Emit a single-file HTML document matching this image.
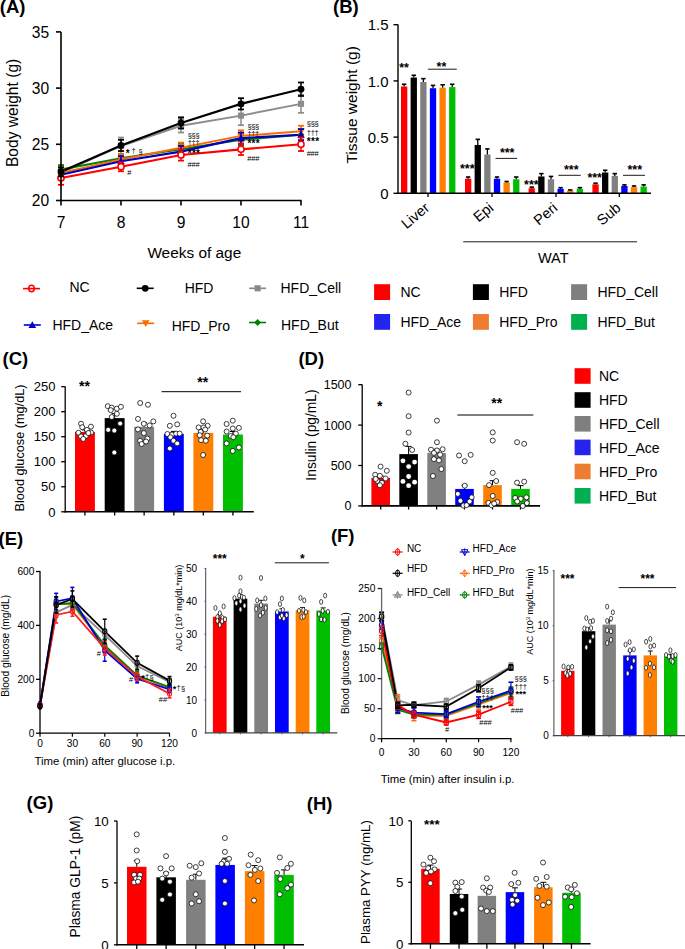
<!DOCTYPE html>
<html><head><meta charset="utf-8"><style>
html,body{margin:0;padding:0;background:#fff;overflow:hidden;width:685px;height:949px;}
svg{display:block;}
text{font-family:"Liberation Sans", sans-serif;}
</style></head><body>
<svg width="685" height="949" viewBox="0 0 685 949" font-family='"Liberation Sans", sans-serif'>
<rect width="685" height="949" fill="#fff"/>
<text x="-0.2" y="12.8" font-size="18.5" text-anchor="start" font-weight="bold" fill="#000">(A)</text>
<polyline points="61.00,172.96 121.00,145.99 181.00,125.75 241.00,115.64 301.00,103.84" fill="none" stroke="#8c8c8c" stroke-width="1.9"/>
<polyline points="61.00,169.59 121.00,158.35 181.00,149.36 241.00,139.80 301.00,134.75" fill="none" stroke="#008000" stroke-width="2.0"/>
<polyline points="61.00,172.96 121.00,159.47 181.00,147.67 241.00,135.87 301.00,131.37" fill="none" stroke="#ff6a00" stroke-width="2.0"/>
<polyline points="61.00,174.65 121.00,161.16 181.00,151.61 241.00,138.12 301.00,134.75" fill="none" stroke="#0000c0" stroke-width="2.1"/>
<polyline points="61.00,178.02 121.00,166.78 181.00,154.98 241.00,149.36 301.00,144.30" fill="none" stroke="#ff0000" stroke-width="2.1"/>
<polyline points="61.00,171.84 121.00,145.42 181.00,122.94 241.00,103.84 301.00,89.22" fill="none" stroke="#000" stroke-width="2.2"/>
<line x1="61.00" y1="168.47" x2="61.00" y2="177.46" stroke="#8c8c8c" stroke-width="1.5"/>
<line x1="58.00" y1="168.47" x2="64.00" y2="168.47" stroke="#8c8c8c" stroke-width="1.8"/>
<line x1="58.00" y1="177.46" x2="64.00" y2="177.46" stroke="#8c8c8c" stroke-width="1.8"/>
<rect x="57.94" y="169.90" width="6.12" height="6.12" fill="#8c8c8c"/>
<line x1="121.00" y1="137.56" x2="121.00" y2="154.42" stroke="#8c8c8c" stroke-width="1.5"/>
<line x1="118.00" y1="137.56" x2="124.00" y2="137.56" stroke="#8c8c8c" stroke-width="1.8"/>
<line x1="118.00" y1="154.42" x2="124.00" y2="154.42" stroke="#8c8c8c" stroke-width="1.8"/>
<rect x="117.94" y="142.93" width="6.12" height="6.12" fill="#8c8c8c"/>
<line x1="181.00" y1="119.01" x2="181.00" y2="132.50" stroke="#8c8c8c" stroke-width="1.5"/>
<line x1="178.00" y1="119.01" x2="184.00" y2="119.01" stroke="#8c8c8c" stroke-width="1.8"/>
<line x1="178.00" y1="132.50" x2="184.00" y2="132.50" stroke="#8c8c8c" stroke-width="1.8"/>
<rect x="177.94" y="122.69" width="6.12" height="6.12" fill="#8c8c8c"/>
<line x1="241.00" y1="106.08" x2="241.00" y2="125.19" stroke="#8c8c8c" stroke-width="1.5"/>
<line x1="238.00" y1="106.08" x2="244.00" y2="106.08" stroke="#8c8c8c" stroke-width="1.8"/>
<line x1="238.00" y1="125.19" x2="244.00" y2="125.19" stroke="#8c8c8c" stroke-width="1.8"/>
<rect x="237.94" y="112.58" width="6.12" height="6.12" fill="#8c8c8c"/>
<line x1="301.00" y1="94.84" x2="301.00" y2="112.83" stroke="#8c8c8c" stroke-width="1.5"/>
<line x1="298.00" y1="94.84" x2="304.00" y2="94.84" stroke="#8c8c8c" stroke-width="1.8"/>
<line x1="298.00" y1="112.83" x2="304.00" y2="112.83" stroke="#8c8c8c" stroke-width="1.8"/>
<rect x="297.94" y="100.78" width="6.12" height="6.12" fill="#8c8c8c"/>
<line x1="61.00" y1="165.09" x2="61.00" y2="174.09" stroke="#008000" stroke-width="1.5"/>
<line x1="58.00" y1="165.09" x2="64.00" y2="165.09" stroke="#008000" stroke-width="1.8"/>
<line x1="58.00" y1="174.09" x2="64.00" y2="174.09" stroke="#008000" stroke-width="1.8"/>
<path d="M61.00 166.19 L64.40 169.59 L61.00 172.99 L57.60 169.59 Z" fill="#008000"/>
<line x1="121.00" y1="153.85" x2="121.00" y2="162.85" stroke="#008000" stroke-width="1.5"/>
<line x1="118.00" y1="153.85" x2="124.00" y2="153.85" stroke="#008000" stroke-width="1.8"/>
<line x1="118.00" y1="162.85" x2="124.00" y2="162.85" stroke="#008000" stroke-width="1.8"/>
<path d="M121.00 154.95 L124.40 158.35 L121.00 161.75 L117.60 158.35 Z" fill="#008000"/>
<line x1="181.00" y1="143.74" x2="181.00" y2="154.98" stroke="#008000" stroke-width="1.5"/>
<line x1="178.00" y1="143.74" x2="184.00" y2="143.74" stroke="#008000" stroke-width="1.8"/>
<line x1="178.00" y1="154.98" x2="184.00" y2="154.98" stroke="#008000" stroke-width="1.8"/>
<path d="M181.00 145.96 L184.40 149.36 L181.00 152.76 L177.60 149.36 Z" fill="#008000"/>
<line x1="241.00" y1="134.18" x2="241.00" y2="145.42" stroke="#008000" stroke-width="1.5"/>
<line x1="238.00" y1="134.18" x2="244.00" y2="134.18" stroke="#008000" stroke-width="1.8"/>
<line x1="238.00" y1="145.42" x2="244.00" y2="145.42" stroke="#008000" stroke-width="1.8"/>
<path d="M241.00 136.40 L244.40 139.80 L241.00 143.20 L237.60 139.80 Z" fill="#008000"/>
<line x1="301.00" y1="129.13" x2="301.00" y2="140.37" stroke="#008000" stroke-width="1.5"/>
<line x1="298.00" y1="129.13" x2="304.00" y2="129.13" stroke="#008000" stroke-width="1.8"/>
<line x1="298.00" y1="140.37" x2="304.00" y2="140.37" stroke="#008000" stroke-width="1.8"/>
<path d="M301.00 131.35 L304.40 134.75 L301.00 138.15 L297.60 134.75 Z" fill="#008000"/>
<line x1="61.00" y1="167.34" x2="61.00" y2="178.58" stroke="#ff6a00" stroke-width="1.5"/>
<line x1="58.00" y1="167.34" x2="64.00" y2="167.34" stroke="#ff6a00" stroke-width="1.8"/>
<line x1="58.00" y1="178.58" x2="64.00" y2="178.58" stroke="#ff6a00" stroke-width="1.8"/>
<path d="M61.00 176.79 L64.83 169.90 L57.17 169.90 Z" fill="#ff6a00"/>
<line x1="121.00" y1="153.85" x2="121.00" y2="165.09" stroke="#ff6a00" stroke-width="1.5"/>
<line x1="118.00" y1="153.85" x2="124.00" y2="153.85" stroke="#ff6a00" stroke-width="1.8"/>
<line x1="118.00" y1="165.09" x2="124.00" y2="165.09" stroke="#ff6a00" stroke-width="1.8"/>
<path d="M121.00 163.30 L124.83 156.41 L117.17 156.41 Z" fill="#ff6a00"/>
<line x1="181.00" y1="142.61" x2="181.00" y2="152.73" stroke="#ff6a00" stroke-width="1.5"/>
<line x1="178.00" y1="142.61" x2="184.00" y2="142.61" stroke="#ff6a00" stroke-width="1.8"/>
<line x1="178.00" y1="152.73" x2="184.00" y2="152.73" stroke="#ff6a00" stroke-width="1.8"/>
<path d="M181.00 151.50 L184.82 144.61 L177.18 144.61 Z" fill="#ff6a00"/>
<line x1="241.00" y1="130.25" x2="241.00" y2="141.49" stroke="#ff6a00" stroke-width="1.5"/>
<line x1="238.00" y1="130.25" x2="244.00" y2="130.25" stroke="#ff6a00" stroke-width="1.8"/>
<line x1="238.00" y1="141.49" x2="244.00" y2="141.49" stroke="#ff6a00" stroke-width="1.8"/>
<path d="M241.00 139.69 L244.82 132.81 L237.18 132.81 Z" fill="#ff6a00"/>
<line x1="301.00" y1="125.75" x2="301.00" y2="136.99" stroke="#ff6a00" stroke-width="1.5"/>
<line x1="298.00" y1="125.75" x2="304.00" y2="125.75" stroke="#ff6a00" stroke-width="1.8"/>
<line x1="298.00" y1="136.99" x2="304.00" y2="136.99" stroke="#ff6a00" stroke-width="1.8"/>
<path d="M301.00 135.20 L304.82 128.31 L297.18 128.31 Z" fill="#ff6a00"/>
<line x1="61.00" y1="170.15" x2="61.00" y2="179.14" stroke="#0000c0" stroke-width="1.5"/>
<line x1="58.00" y1="170.15" x2="64.00" y2="170.15" stroke="#0000c0" stroke-width="1.8"/>
<line x1="58.00" y1="179.14" x2="64.00" y2="179.14" stroke="#0000c0" stroke-width="1.8"/>
<path d="M61.00 170.82 L64.83 177.71 L57.17 177.71 Z" fill="#0000c0"/>
<line x1="121.00" y1="156.10" x2="121.00" y2="166.22" stroke="#0000c0" stroke-width="1.5"/>
<line x1="118.00" y1="156.10" x2="124.00" y2="156.10" stroke="#0000c0" stroke-width="1.8"/>
<line x1="118.00" y1="166.22" x2="124.00" y2="166.22" stroke="#0000c0" stroke-width="1.8"/>
<path d="M121.00 157.34 L124.83 164.22 L117.17 164.22 Z" fill="#0000c0"/>
<line x1="181.00" y1="145.99" x2="181.00" y2="157.23" stroke="#0000c0" stroke-width="1.5"/>
<line x1="178.00" y1="145.99" x2="184.00" y2="145.99" stroke="#0000c0" stroke-width="1.8"/>
<line x1="178.00" y1="157.23" x2="184.00" y2="157.23" stroke="#0000c0" stroke-width="1.8"/>
<path d="M181.00 147.78 L184.82 154.67 L177.18 154.67 Z" fill="#0000c0"/>
<line x1="241.00" y1="132.50" x2="241.00" y2="143.74" stroke="#0000c0" stroke-width="1.5"/>
<line x1="238.00" y1="132.50" x2="244.00" y2="132.50" stroke="#0000c0" stroke-width="1.8"/>
<line x1="238.00" y1="143.74" x2="244.00" y2="143.74" stroke="#0000c0" stroke-width="1.8"/>
<path d="M241.00 134.29 L244.82 141.18 L237.18 141.18 Z" fill="#0000c0"/>
<line x1="301.00" y1="129.13" x2="301.00" y2="140.37" stroke="#0000c0" stroke-width="1.5"/>
<line x1="298.00" y1="129.13" x2="304.00" y2="129.13" stroke="#0000c0" stroke-width="1.8"/>
<line x1="298.00" y1="140.37" x2="304.00" y2="140.37" stroke="#0000c0" stroke-width="1.8"/>
<path d="M301.00 130.92 L304.82 137.81 L297.18 137.81 Z" fill="#0000c0"/>
<line x1="61.00" y1="171.28" x2="61.00" y2="184.76" stroke="#ff0000" stroke-width="1.5"/>
<line x1="58.00" y1="171.28" x2="64.00" y2="171.28" stroke="#ff0000" stroke-width="1.8"/>
<line x1="58.00" y1="184.76" x2="64.00" y2="184.76" stroke="#ff0000" stroke-width="1.8"/>
<circle cx="61.00" cy="178.02" r="3.06" fill="#fff" stroke="#ff0000" stroke-width="1.6"/>
<line x1="121.00" y1="162.28" x2="121.00" y2="171.28" stroke="#ff0000" stroke-width="1.5"/>
<line x1="118.00" y1="162.28" x2="124.00" y2="162.28" stroke="#ff0000" stroke-width="1.8"/>
<line x1="118.00" y1="171.28" x2="124.00" y2="171.28" stroke="#ff0000" stroke-width="1.8"/>
<circle cx="121.00" cy="166.78" r="3.06" fill="#fff" stroke="#ff0000" stroke-width="1.6"/>
<line x1="181.00" y1="149.36" x2="181.00" y2="160.60" stroke="#ff0000" stroke-width="1.5"/>
<line x1="178.00" y1="149.36" x2="184.00" y2="149.36" stroke="#ff0000" stroke-width="1.8"/>
<line x1="178.00" y1="160.60" x2="184.00" y2="160.60" stroke="#ff0000" stroke-width="1.8"/>
<circle cx="181.00" cy="154.98" r="3.06" fill="#fff" stroke="#ff0000" stroke-width="1.6"/>
<line x1="241.00" y1="143.74" x2="241.00" y2="154.98" stroke="#ff0000" stroke-width="1.5"/>
<line x1="238.00" y1="143.74" x2="244.00" y2="143.74" stroke="#ff0000" stroke-width="1.8"/>
<line x1="238.00" y1="154.98" x2="244.00" y2="154.98" stroke="#ff0000" stroke-width="1.8"/>
<circle cx="241.00" cy="149.36" r="3.06" fill="#fff" stroke="#ff0000" stroke-width="1.6"/>
<line x1="301.00" y1="137.56" x2="301.00" y2="151.04" stroke="#ff0000" stroke-width="1.5"/>
<line x1="298.00" y1="137.56" x2="304.00" y2="137.56" stroke="#ff0000" stroke-width="1.8"/>
<line x1="298.00" y1="151.04" x2="304.00" y2="151.04" stroke="#ff0000" stroke-width="1.8"/>
<circle cx="301.00" cy="144.30" r="3.06" fill="#fff" stroke="#ff0000" stroke-width="1.6"/>
<line x1="61.00" y1="167.34" x2="61.00" y2="176.33" stroke="#000" stroke-width="1.5"/>
<line x1="58.00" y1="167.34" x2="64.00" y2="167.34" stroke="#000" stroke-width="1.8"/>
<line x1="58.00" y1="176.33" x2="64.00" y2="176.33" stroke="#000" stroke-width="1.8"/>
<circle cx="61.00" cy="171.84" r="3.40" fill="#000"/>
<line x1="121.00" y1="139.80" x2="121.00" y2="151.04" stroke="#000" stroke-width="1.5"/>
<line x1="118.00" y1="139.80" x2="124.00" y2="139.80" stroke="#000" stroke-width="1.8"/>
<line x1="118.00" y1="151.04" x2="124.00" y2="151.04" stroke="#000" stroke-width="1.8"/>
<circle cx="121.00" cy="145.42" r="3.40" fill="#000"/>
<line x1="181.00" y1="117.32" x2="181.00" y2="128.56" stroke="#000" stroke-width="1.5"/>
<line x1="178.00" y1="117.32" x2="184.00" y2="117.32" stroke="#000" stroke-width="1.8"/>
<line x1="178.00" y1="128.56" x2="184.00" y2="128.56" stroke="#000" stroke-width="1.8"/>
<circle cx="181.00" cy="122.94" r="3.40" fill="#000"/>
<line x1="241.00" y1="98.22" x2="241.00" y2="109.46" stroke="#000" stroke-width="1.5"/>
<line x1="238.00" y1="98.22" x2="244.00" y2="98.22" stroke="#000" stroke-width="1.8"/>
<line x1="238.00" y1="109.46" x2="244.00" y2="109.46" stroke="#000" stroke-width="1.8"/>
<circle cx="241.00" cy="103.84" r="3.40" fill="#000"/>
<line x1="301.00" y1="82.48" x2="301.00" y2="95.97" stroke="#000" stroke-width="1.5"/>
<line x1="298.00" y1="82.48" x2="304.00" y2="82.48" stroke="#000" stroke-width="1.8"/>
<line x1="298.00" y1="95.97" x2="304.00" y2="95.97" stroke="#000" stroke-width="1.8"/>
<circle cx="301.00" cy="89.22" r="3.40" fill="#000"/>
<line x1="61.00" y1="32.00" x2="61.00" y2="201.25" stroke="#000" stroke-width="1.6"/>
<line x1="60.20" y1="200.50" x2="301.50" y2="200.50" stroke="#000" stroke-width="1.6"/>
<line x1="56.00" y1="200.50" x2="61.00" y2="200.50" stroke="#000" stroke-width="1.6"/>
<text x="49.2" y="206.3" font-size="15.6" text-anchor="end" font-weight="normal" fill="#000">20</text>
<line x1="56.00" y1="144.30" x2="61.00" y2="144.30" stroke="#000" stroke-width="1.6"/>
<text x="49.2" y="150.1" font-size="15.6" text-anchor="end" font-weight="normal" fill="#000">25</text>
<line x1="56.00" y1="88.10" x2="61.00" y2="88.10" stroke="#000" stroke-width="1.6"/>
<text x="49.2" y="93.9" font-size="15.6" text-anchor="end" font-weight="normal" fill="#000">30</text>
<line x1="56.00" y1="31.90" x2="61.00" y2="31.90" stroke="#000" stroke-width="1.6"/>
<text x="49.2" y="37.7" font-size="15.6" text-anchor="end" font-weight="normal" fill="#000">35</text>
<line x1="61.00" y1="200.50" x2="61.00" y2="205.50" stroke="#000" stroke-width="1.6"/>
<text x="61.0" y="228.1" font-size="15.6" text-anchor="middle" font-weight="normal" fill="#000">7</text>
<line x1="121.00" y1="200.50" x2="121.00" y2="205.50" stroke="#000" stroke-width="1.6"/>
<text x="121.0" y="228.1" font-size="15.6" text-anchor="middle" font-weight="normal" fill="#000">8</text>
<line x1="181.00" y1="200.50" x2="181.00" y2="205.50" stroke="#000" stroke-width="1.6"/>
<text x="181.0" y="228.1" font-size="15.6" text-anchor="middle" font-weight="normal" fill="#000">9</text>
<line x1="241.00" y1="200.50" x2="241.00" y2="205.50" stroke="#000" stroke-width="1.6"/>
<text x="241.0" y="228.1" font-size="15.6" text-anchor="middle" font-weight="normal" fill="#000">10</text>
<line x1="301.00" y1="200.50" x2="301.00" y2="205.50" stroke="#000" stroke-width="1.6"/>
<text x="301.0" y="228.1" font-size="15.6" text-anchor="middle" font-weight="normal" fill="#000">11</text>
<text x="194.3" y="258.0" font-size="15.4" text-anchor="middle" font-weight="normal" fill="#000">Weeks of age</text>
<text x="12.0" y="118.5" font-size="15.6" text-anchor="middle" font-weight="normal" fill="#000" transform="rotate(-90 12.0 112.9)">Body weight (g)</text>
<text x="127.8" y="157.1" font-size="10" text-anchor="middle" font-weight="bold" letter-spacing="0.0">*</text>
<text x="133.7" y="153.3" font-size="7.5" text-anchor="middle" font-weight="normal" fill="#000">&#8224;</text>
<text x="140.5" y="153.7" font-size="7.5" text-anchor="middle" font-weight="normal" fill="#000">&#167;</text>
<text x="129.3" y="175.2" font-size="7.5" text-anchor="middle" font-weight="normal" fill="#000">#</text>
<text x="193.5" y="137.8" font-size="7.5" text-anchor="middle" font-weight="normal" fill="#000" letter-spacing="-0.3">&#167;&#167;&#167;</text>
<text x="193.5" y="145.1" font-size="7.5" text-anchor="middle" font-weight="normal" fill="#000" letter-spacing="-0.3">&#8224;&#8224;&#8224;</text>
<text x="194.0" y="157.4" font-size="10" text-anchor="middle" font-weight="bold" letter-spacing="0.3">***</text>
<text x="193.5" y="167.4" font-size="7.5" text-anchor="middle" font-weight="normal" fill="#000" letter-spacing="-0.2">###</text>
<text x="253.2" y="128.8" font-size="7.5" text-anchor="middle" font-weight="normal" fill="#000" letter-spacing="-0.3">&#167;&#167;&#167;</text>
<text x="253.2" y="136.4" font-size="7.5" text-anchor="middle" font-weight="normal" fill="#000" letter-spacing="-0.3">&#8224;&#8224;&#8224;</text>
<text x="253.7" y="147.2" font-size="10" text-anchor="middle" font-weight="bold" letter-spacing="0.3">***</text>
<text x="253.2" y="161.2" font-size="7.5" text-anchor="middle" font-weight="normal" fill="#000" letter-spacing="-0.2">###</text>
<text x="312.6" y="125.9" font-size="7.5" text-anchor="middle" font-weight="normal" fill="#000" letter-spacing="-0.3">&#167;&#167;&#167;</text>
<text x="312.6" y="134.9" font-size="7.5" text-anchor="middle" font-weight="normal" fill="#000" letter-spacing="-0.3">&#8224;&#8224;&#8224;</text>
<text x="313.1" y="144.7" font-size="10" text-anchor="middle" font-weight="bold" letter-spacing="0.3">***</text>
<text x="312.6" y="156.1" font-size="7.5" text-anchor="middle" font-weight="normal" fill="#000" letter-spacing="-0.2">###</text>
<text x="333.0" y="12.8" font-size="18.5" text-anchor="start" font-weight="bold" fill="#000">(B)</text>
<rect x="401.00" y="86.52" width="6.30" height="106.78" fill="#ff0000"/>
<line x1="404.15" y1="86.52" x2="404.15" y2="84.27" stroke="#000000" stroke-width="1.3"/>
<line x1="401.95" y1="84.27" x2="406.35" y2="84.27" stroke="#000000" stroke-width="1.6"/>
<rect x="410.62" y="77.53" width="6.30" height="115.77" fill="#000000"/>
<line x1="413.77" y1="77.53" x2="413.77" y2="75.28" stroke="#000000" stroke-width="1.3"/>
<line x1="411.57" y1="75.28" x2="415.97" y2="75.28" stroke="#000000" stroke-width="1.6"/>
<rect x="420.24" y="82.02" width="6.30" height="111.28" fill="#808080"/>
<line x1="423.39" y1="82.02" x2="423.39" y2="78.65" stroke="#000000" stroke-width="1.3"/>
<line x1="421.19" y1="78.65" x2="425.59" y2="78.65" stroke="#000000" stroke-width="1.6"/>
<rect x="429.86" y="88.21" width="6.30" height="105.09" fill="#0000ff"/>
<line x1="433.01" y1="88.21" x2="433.01" y2="85.40" stroke="#000000" stroke-width="1.3"/>
<line x1="430.81" y1="85.40" x2="435.21" y2="85.40" stroke="#000000" stroke-width="1.6"/>
<rect x="439.48" y="87.64" width="6.30" height="105.66" fill="#ff8000"/>
<line x1="442.63" y1="87.64" x2="442.63" y2="84.83" stroke="#000000" stroke-width="1.3"/>
<line x1="440.43" y1="84.83" x2="444.83" y2="84.83" stroke="#000000" stroke-width="1.6"/>
<rect x="449.10" y="87.08" width="6.30" height="106.22" fill="#00bf00"/>
<line x1="452.25" y1="87.08" x2="452.25" y2="84.27" stroke="#000000" stroke-width="1.3"/>
<line x1="450.05" y1="84.27" x2="454.45" y2="84.27" stroke="#000000" stroke-width="1.6"/>
<rect x="465.00" y="178.69" width="6.30" height="14.61" fill="#ff0000"/>
<line x1="468.15" y1="178.69" x2="468.15" y2="177.00" stroke="#000000" stroke-width="1.3"/>
<line x1="465.95" y1="177.00" x2="470.35" y2="177.00" stroke="#000000" stroke-width="1.6"/>
<rect x="474.62" y="144.97" width="6.30" height="48.33" fill="#000000"/>
<line x1="477.77" y1="144.97" x2="477.77" y2="139.35" stroke="#000000" stroke-width="1.3"/>
<line x1="475.57" y1="139.35" x2="479.97" y2="139.35" stroke="#000000" stroke-width="1.6"/>
<rect x="484.24" y="154.52" width="6.30" height="38.78" fill="#808080"/>
<line x1="487.39" y1="154.52" x2="487.39" y2="148.90" stroke="#000000" stroke-width="1.3"/>
<line x1="485.19" y1="148.90" x2="489.59" y2="148.90" stroke="#000000" stroke-width="1.6"/>
<rect x="493.86" y="178.69" width="6.30" height="14.61" fill="#0000ff"/>
<line x1="497.01" y1="178.69" x2="497.01" y2="177.00" stroke="#000000" stroke-width="1.3"/>
<line x1="494.81" y1="177.00" x2="499.21" y2="177.00" stroke="#000000" stroke-width="1.6"/>
<rect x="503.48" y="182.62" width="6.30" height="10.68" fill="#ff8000"/>
<line x1="506.63" y1="182.62" x2="506.63" y2="181.50" stroke="#000000" stroke-width="1.3"/>
<line x1="504.43" y1="181.50" x2="508.83" y2="181.50" stroke="#000000" stroke-width="1.6"/>
<rect x="513.10" y="179.25" width="6.30" height="14.05" fill="#00bf00"/>
<line x1="516.25" y1="179.25" x2="516.25" y2="177.00" stroke="#000000" stroke-width="1.3"/>
<line x1="514.05" y1="177.00" x2="518.45" y2="177.00" stroke="#000000" stroke-width="1.6"/>
<rect x="528.60" y="188.24" width="6.30" height="5.06" fill="#ff0000"/>
<line x1="531.75" y1="188.24" x2="531.75" y2="187.12" stroke="#000000" stroke-width="1.3"/>
<line x1="529.55" y1="187.12" x2="533.95" y2="187.12" stroke="#000000" stroke-width="1.6"/>
<rect x="538.22" y="176.44" width="6.30" height="16.86" fill="#000000"/>
<line x1="541.37" y1="176.44" x2="541.37" y2="173.63" stroke="#000000" stroke-width="1.3"/>
<line x1="539.17" y1="173.63" x2="543.57" y2="173.63" stroke="#000000" stroke-width="1.6"/>
<rect x="547.84" y="179.25" width="6.30" height="14.05" fill="#808080"/>
<line x1="550.99" y1="179.25" x2="550.99" y2="176.44" stroke="#000000" stroke-width="1.3"/>
<line x1="548.79" y1="176.44" x2="553.19" y2="176.44" stroke="#000000" stroke-width="1.6"/>
<rect x="557.46" y="188.80" width="6.30" height="4.50" fill="#0000ff"/>
<line x1="560.61" y1="188.80" x2="560.61" y2="187.68" stroke="#000000" stroke-width="1.3"/>
<line x1="558.41" y1="187.68" x2="562.81" y2="187.68" stroke="#000000" stroke-width="1.6"/>
<rect x="567.08" y="190.49" width="6.30" height="2.81" fill="#ff8000"/>
<line x1="570.23" y1="190.49" x2="570.23" y2="189.93" stroke="#000000" stroke-width="1.3"/>
<line x1="568.03" y1="189.93" x2="572.43" y2="189.93" stroke="#000000" stroke-width="1.6"/>
<rect x="576.70" y="188.80" width="6.30" height="4.50" fill="#00bf00"/>
<line x1="579.85" y1="188.80" x2="579.85" y2="187.68" stroke="#000000" stroke-width="1.3"/>
<line x1="577.65" y1="187.68" x2="582.05" y2="187.68" stroke="#000000" stroke-width="1.6"/>
<rect x="592.40" y="184.31" width="6.30" height="8.99" fill="#ff0000"/>
<line x1="595.55" y1="184.31" x2="595.55" y2="183.18" stroke="#000000" stroke-width="1.3"/>
<line x1="593.35" y1="183.18" x2="597.75" y2="183.18" stroke="#000000" stroke-width="1.6"/>
<rect x="602.02" y="172.51" width="6.30" height="20.79" fill="#000000"/>
<line x1="605.17" y1="172.51" x2="605.17" y2="170.26" stroke="#000000" stroke-width="1.3"/>
<line x1="602.97" y1="170.26" x2="607.37" y2="170.26" stroke="#000000" stroke-width="1.6"/>
<rect x="611.64" y="175.88" width="6.30" height="17.42" fill="#808080"/>
<line x1="614.79" y1="175.88" x2="614.79" y2="173.63" stroke="#000000" stroke-width="1.3"/>
<line x1="612.59" y1="173.63" x2="616.99" y2="173.63" stroke="#000000" stroke-width="1.6"/>
<rect x="621.26" y="185.99" width="6.30" height="7.31" fill="#0000ff"/>
<line x1="624.41" y1="185.99" x2="624.41" y2="184.87" stroke="#000000" stroke-width="1.3"/>
<line x1="622.21" y1="184.87" x2="626.61" y2="184.87" stroke="#000000" stroke-width="1.6"/>
<rect x="630.88" y="187.12" width="6.30" height="6.18" fill="#ff8000"/>
<line x1="634.03" y1="187.12" x2="634.03" y2="185.99" stroke="#000000" stroke-width="1.3"/>
<line x1="631.83" y1="185.99" x2="636.23" y2="185.99" stroke="#000000" stroke-width="1.6"/>
<rect x="640.50" y="186.56" width="6.30" height="6.74" fill="#00bf00"/>
<line x1="643.65" y1="186.56" x2="643.65" y2="184.87" stroke="#000000" stroke-width="1.3"/>
<line x1="641.45" y1="184.87" x2="645.85" y2="184.87" stroke="#000000" stroke-width="1.6"/>
<line x1="398.00" y1="24.50" x2="398.00" y2="193.90" stroke="#000" stroke-width="1.4"/>
<line x1="397.30" y1="193.30" x2="651.00" y2="193.30" stroke="#000" stroke-width="1.6"/>
<line x1="393.50" y1="193.30" x2="398.00" y2="193.30" stroke="#000" stroke-width="1.4"/>
<text x="388.6" y="198.9" font-size="15" text-anchor="end" font-weight="normal" fill="#000">0</text>
<line x1="393.50" y1="137.10" x2="398.00" y2="137.10" stroke="#000" stroke-width="1.4"/>
<text x="388.6" y="142.7" font-size="15" text-anchor="end" font-weight="normal" fill="#000">0.5</text>
<line x1="393.50" y1="80.90" x2="398.00" y2="80.90" stroke="#000" stroke-width="1.4"/>
<text x="388.6" y="86.5" font-size="15" text-anchor="end" font-weight="normal" fill="#000">1.0</text>
<line x1="393.50" y1="24.70" x2="398.00" y2="24.70" stroke="#000" stroke-width="1.4"/>
<text x="388.6" y="30.3" font-size="15" text-anchor="end" font-weight="normal" fill="#000">1.5</text>
<line x1="428.00" y1="193.30" x2="428.00" y2="196.90" stroke="#000" stroke-width="1.3"/>
<line x1="492.00" y1="193.30" x2="492.00" y2="196.90" stroke="#000" stroke-width="1.3"/>
<line x1="556.00" y1="193.30" x2="556.00" y2="196.90" stroke="#000" stroke-width="1.3"/>
<line x1="619.30" y1="193.30" x2="619.30" y2="196.90" stroke="#000" stroke-width="1.3"/>
<text x="0" y="0" font-size="14.5" text-anchor="end" transform="translate(430.5 209.3) rotate(-40)">Liver</text>
<text x="0" y="0" font-size="14.5" text-anchor="end" transform="translate(494.5 209.3) rotate(-40)">Epi</text>
<text x="0" y="0" font-size="14.5" text-anchor="end" transform="translate(558.5 209.3) rotate(-40)">Peri</text>
<text x="0" y="0" font-size="14.5" text-anchor="end" transform="translate(621.8 209.3) rotate(-40)">Sub</text>
<line x1="463.20" y1="241.80" x2="637.00" y2="241.80" stroke="#000" stroke-width="0.9"/>
<text x="553.2" y="263.4" font-size="14.5" text-anchor="middle" font-weight="normal" fill="#000">WAT</text>
<text x="351.8" y="110.4" font-size="15.5" text-anchor="middle" font-weight="normal" fill="#000" transform="rotate(-90 351.8 104.8)">Tissue weight (g)</text>
<text x="404.0" y="71.5" font-size="12.5" text-anchor="middle" font-weight="bold" letter-spacing="0.0">**</text>
<line x1="427.90" y1="69.20" x2="456.80" y2="69.20" stroke="#000" stroke-width="0.9"/>
<text x="441.4" y="70.7" font-size="12.5" text-anchor="middle" font-weight="bold" letter-spacing="0.0">**</text>
<text x="467.3" y="173.4" font-size="12.5" text-anchor="middle" font-weight="bold" letter-spacing="0.0">***</text>
<line x1="495.50" y1="158.40" x2="517.10" y2="158.40" stroke="#000" stroke-width="0.9"/>
<text x="507.2" y="157.0" font-size="12.5" text-anchor="middle" font-weight="bold" letter-spacing="0.0">***</text>
<text x="531.4" y="188.5" font-size="12.5" text-anchor="middle" font-weight="bold" letter-spacing="0.0">***</text>
<line x1="558.40" y1="175.30" x2="580.70" y2="175.30" stroke="#000" stroke-width="0.9"/>
<text x="571.3" y="173.7" font-size="12.5" text-anchor="middle" font-weight="bold" letter-spacing="0.0">***</text>
<text x="594.7" y="181.8" font-size="12.5" text-anchor="middle" font-weight="bold" letter-spacing="0.0">***</text>
<line x1="623.00" y1="175.30" x2="645.00" y2="175.30" stroke="#000" stroke-width="0.9"/>
<text x="634.8" y="174.0" font-size="12.5" text-anchor="middle" font-weight="bold" letter-spacing="0.0">***</text>
<line x1="23.00" y1="288.60" x2="40.00" y2="288.60" stroke="#ff0000" stroke-width="1.6"/>
<ellipse cx="31.50" cy="288.60" rx="2.80" ry="3.23" fill="none" stroke="#ff0000" stroke-width="1.5"/>
<text x="69.5" y="292.4" font-size="14" text-anchor="start" font-weight="normal" fill="#000">NC</text>
<line x1="136.70" y1="288.30" x2="153.70" y2="288.30" stroke="#000" stroke-width="1.6"/>
<circle cx="145.20" cy="288.30" r="3.40" fill="#000"/>
<text x="184.7" y="292.6" font-size="14" text-anchor="start" font-weight="normal" fill="#000">HFD</text>
<line x1="249.10" y1="288.30" x2="266.10" y2="288.30" stroke="#888" stroke-width="1.6"/>
<rect x="254.54" y="285.24" width="6.12" height="6.12" fill="#888"/>
<text x="280.5" y="292.6" font-size="14" text-anchor="start" font-weight="normal" fill="#000">HFD_Cell</text>
<line x1="23.80" y1="325.00" x2="40.80" y2="325.00" stroke="#0000cc" stroke-width="1.6"/>
<path d="M32.30 321.18 L36.12 328.06 L28.47 328.06 Z" fill="#0000cc"/>
<text x="52.4" y="329.9" font-size="14" text-anchor="start" font-weight="normal" fill="#000">HFD_Ace</text>
<line x1="137.20" y1="323.30" x2="154.20" y2="323.30" stroke="#ff6a00" stroke-width="1.6"/>
<path d="M145.70 327.12 L149.52 320.24 L141.88 320.24 Z" fill="#ff6a00"/>
<text x="171.7" y="330.9" font-size="14" text-anchor="start" font-weight="normal" fill="#000">HFD_Pro</text>
<line x1="249.10" y1="322.50" x2="266.10" y2="322.50" stroke="#008000" stroke-width="1.6"/>
<path d="M257.60 319.10 L261.00 322.50 L257.60 325.90 L254.20 322.50 Z" fill="#008000"/>
<text x="281.0" y="329.5" font-size="14" text-anchor="start" font-weight="normal" fill="#000">HFD_But</text>
<rect x="374.10" y="284.20" width="16.00" height="15.80" fill="#ff0000"/>
<text x="400.4" y="296.8" font-size="14" text-anchor="start" font-weight="normal" fill="#000">NC</text>
<rect x="472.90" y="284.20" width="16.00" height="15.80" fill="#000000"/>
<text x="499.2" y="296.8" font-size="14" text-anchor="start" font-weight="normal" fill="#000">HFD</text>
<rect x="571.10" y="284.20" width="16.00" height="15.80" fill="#7f7f7f"/>
<text x="597.4" y="296.8" font-size="14" text-anchor="start" font-weight="normal" fill="#000">HFD_Cell</text>
<rect x="374.10" y="314.00" width="16.00" height="15.80" fill="#2424ee"/>
<text x="400.4" y="326.6" font-size="14" text-anchor="start" font-weight="normal" fill="#000">HFD_Ace</text>
<rect x="472.90" y="314.00" width="16.00" height="15.80" fill="#ed7d31"/>
<text x="499.2" y="326.6" font-size="14" text-anchor="start" font-weight="normal" fill="#000">HFD_Pro</text>
<rect x="571.10" y="314.00" width="16.00" height="15.80" fill="#00b050"/>
<text x="597.4" y="326.6" font-size="14" text-anchor="start" font-weight="normal" fill="#000">HFD_But</text>
<text x="2.5" y="364.7" font-size="18.5" text-anchor="start" font-weight="bold" fill="#000">(C)</text>
<line x1="84.95" y1="431.95" x2="84.95" y2="429.95" stroke="#000" stroke-width="1.0"/>
<line x1="81.95" y1="429.95" x2="87.95" y2="429.95" stroke="#000" stroke-width="1.0"/>
<rect x="75.00" y="431.95" width="19.90" height="79.85" fill="#ff0000"/>
<line x1="114.65" y1="418.09" x2="114.65" y2="413.58" stroke="#000" stroke-width="1.0"/>
<line x1="111.65" y1="413.58" x2="117.65" y2="413.58" stroke="#000" stroke-width="1.0"/>
<rect x="104.70" y="418.09" width="19.90" height="93.71" fill="#000000"/>
<line x1="144.15" y1="426.80" x2="144.15" y2="422.79" stroke="#000" stroke-width="1.0"/>
<line x1="141.15" y1="422.79" x2="147.15" y2="422.79" stroke="#000" stroke-width="1.0"/>
<rect x="134.20" y="426.80" width="19.90" height="85.00" fill="#808080"/>
<line x1="173.85" y1="433.91" x2="173.85" y2="431.40" stroke="#000" stroke-width="1.0"/>
<line x1="170.85" y1="431.40" x2="176.85" y2="431.40" stroke="#000" stroke-width="1.0"/>
<rect x="163.90" y="433.91" width="19.90" height="77.89" fill="#0000ff"/>
<line x1="203.35" y1="432.91" x2="203.35" y2="430.40" stroke="#000" stroke-width="1.0"/>
<line x1="200.35" y1="430.40" x2="206.35" y2="430.40" stroke="#000" stroke-width="1.0"/>
<rect x="193.40" y="432.91" width="19.90" height="78.89" fill="#ff8000"/>
<line x1="232.95" y1="434.51" x2="232.95" y2="431.50" stroke="#000" stroke-width="1.0"/>
<line x1="229.95" y1="431.50" x2="235.95" y2="431.50" stroke="#000" stroke-width="1.0"/>
<rect x="223.00" y="434.51" width="19.90" height="77.29" fill="#00bf00"/>
<line x1="61.20" y1="511.80" x2="65.20" y2="511.80" stroke="#000" stroke-width="1.3"/>
<text x="55.5" y="516.5" font-size="13" text-anchor="end" font-weight="normal" fill="#000">0</text>
<line x1="61.20" y1="486.77" x2="65.20" y2="486.77" stroke="#000" stroke-width="1.3"/>
<text x="55.5" y="491.4" font-size="13" text-anchor="end" font-weight="normal" fill="#000">50</text>
<line x1="61.20" y1="461.74" x2="65.20" y2="461.74" stroke="#000" stroke-width="1.3"/>
<text x="55.5" y="466.4" font-size="13" text-anchor="end" font-weight="normal" fill="#000">100</text>
<line x1="61.20" y1="436.71" x2="65.20" y2="436.71" stroke="#000" stroke-width="1.3"/>
<text x="55.5" y="441.4" font-size="13" text-anchor="end" font-weight="normal" fill="#000">150</text>
<line x1="61.20" y1="411.68" x2="65.20" y2="411.68" stroke="#000" stroke-width="1.3"/>
<text x="55.5" y="416.4" font-size="13" text-anchor="end" font-weight="normal" fill="#000">200</text>
<line x1="61.20" y1="386.65" x2="65.20" y2="386.65" stroke="#000" stroke-width="1.3"/>
<text x="55.5" y="391.3" font-size="13" text-anchor="end" font-weight="normal" fill="#000">250</text>
<line x1="65.20" y1="386.50" x2="65.20" y2="512.45" stroke="#000" stroke-width="1.3"/>
<line x1="64.55" y1="511.80" x2="253.80" y2="511.80" stroke="#000" stroke-width="1.6"/>
<line x1="84.95" y1="511.80" x2="84.95" y2="515.60" stroke="#000" stroke-width="1.3"/>
<line x1="114.65" y1="511.80" x2="114.65" y2="515.60" stroke="#000" stroke-width="1.3"/>
<line x1="144.15" y1="511.80" x2="144.15" y2="515.60" stroke="#000" stroke-width="1.3"/>
<line x1="173.85" y1="511.80" x2="173.85" y2="515.60" stroke="#000" stroke-width="1.3"/>
<line x1="203.35" y1="511.80" x2="203.35" y2="515.60" stroke="#000" stroke-width="1.3"/>
<line x1="232.95" y1="511.80" x2="232.95" y2="515.60" stroke="#000" stroke-width="1.3"/>
<circle cx="81.06" cy="423.72" r="2.5" fill="#fff" stroke="#000" stroke-width="0.75"/>
<circle cx="90.99" cy="426.64" r="2.5" fill="#fff" stroke="#000" stroke-width="0.75"/>
<circle cx="82.23" cy="427.23" r="2.5" fill="#fff" stroke="#000" stroke-width="0.75"/>
<circle cx="86.90" cy="429.85" r="2.5" fill="#fff" stroke="#000" stroke-width="0.75"/>
<circle cx="78.43" cy="432.77" r="2.5" fill="#fff" stroke="#000" stroke-width="0.75"/>
<circle cx="90.99" cy="432.48" r="2.5" fill="#fff" stroke="#000" stroke-width="0.75"/>
<circle cx="81.06" cy="436.42" r="2.5" fill="#fff" stroke="#000" stroke-width="0.75"/>
<circle cx="85.88" cy="435.99" r="2.5" fill="#fff" stroke="#000" stroke-width="0.75"/>
<circle cx="83.25" cy="438.91" r="2.5" fill="#fff" stroke="#000" stroke-width="0.75"/>
<circle cx="88.36" cy="433.07" r="2.5" fill="#fff" stroke="#000" stroke-width="0.75"/>
<circle cx="107.77" cy="406.20" r="2.5" fill="#fff" stroke="#000" stroke-width="0.75"/>
<circle cx="111.72" cy="407.66" r="2.5" fill="#fff" stroke="#000" stroke-width="0.75"/>
<circle cx="116.82" cy="408.69" r="2.5" fill="#fff" stroke="#000" stroke-width="0.75"/>
<circle cx="120.91" cy="406.79" r="2.5" fill="#fff" stroke="#000" stroke-width="0.75"/>
<circle cx="110.69" cy="410.15" r="2.5" fill="#fff" stroke="#000" stroke-width="0.75"/>
<circle cx="116.82" cy="413.80" r="2.5" fill="#fff" stroke="#000" stroke-width="0.75"/>
<circle cx="111.72" cy="417.01" r="2.5" fill="#fff" stroke="#000" stroke-width="0.75"/>
<circle cx="120.18" cy="423.58" r="2.5" fill="#fff" stroke="#000" stroke-width="0.75"/>
<circle cx="108.21" cy="429.85" r="2.5" fill="#fff" stroke="#000" stroke-width="0.75"/>
<circle cx="114.34" cy="430.58" r="2.5" fill="#fff" stroke="#000" stroke-width="0.75"/>
<circle cx="114.34" cy="452.48" r="2.5" fill="#fff" stroke="#000" stroke-width="0.75"/>
<circle cx="140.18" cy="402.99" r="2.5" fill="#fff" stroke="#000" stroke-width="0.75"/>
<circle cx="147.92" cy="404.74" r="2.5" fill="#fff" stroke="#000" stroke-width="0.75"/>
<circle cx="137.99" cy="418.91" r="2.5" fill="#fff" stroke="#000" stroke-width="0.75"/>
<circle cx="143.83" cy="423.72" r="2.5" fill="#fff" stroke="#000" stroke-width="0.75"/>
<circle cx="153.32" cy="421.39" r="2.5" fill="#fff" stroke="#000" stroke-width="0.75"/>
<circle cx="149.67" cy="425.47" r="2.5" fill="#fff" stroke="#000" stroke-width="0.75"/>
<circle cx="137.99" cy="429.42" r="2.5" fill="#fff" stroke="#000" stroke-width="0.75"/>
<circle cx="143.83" cy="433.07" r="2.5" fill="#fff" stroke="#000" stroke-width="0.75"/>
<circle cx="147.48" cy="438.61" r="2.5" fill="#fff" stroke="#000" stroke-width="0.75"/>
<circle cx="140.18" cy="440.80" r="2.5" fill="#fff" stroke="#000" stroke-width="0.75"/>
<circle cx="141.64" cy="444.01" r="2.5" fill="#fff" stroke="#000" stroke-width="0.75"/>
<circle cx="146.02" cy="441.53" r="2.5" fill="#fff" stroke="#000" stroke-width="0.75"/>
<circle cx="173.50" cy="415.79" r="2.5" fill="#fff" stroke="#000" stroke-width="0.75"/>
<circle cx="169.82" cy="425.81" r="2.5" fill="#fff" stroke="#000" stroke-width="0.75"/>
<circle cx="177.18" cy="424.38" r="2.5" fill="#fff" stroke="#000" stroke-width="0.75"/>
<circle cx="167.37" cy="433.98" r="2.5" fill="#fff" stroke="#000" stroke-width="0.75"/>
<circle cx="172.07" cy="434.60" r="2.5" fill="#fff" stroke="#000" stroke-width="0.75"/>
<circle cx="176.16" cy="433.57" r="2.5" fill="#fff" stroke="#000" stroke-width="0.75"/>
<circle cx="179.63" cy="433.57" r="2.5" fill="#fff" stroke="#000" stroke-width="0.75"/>
<circle cx="170.44" cy="437.25" r="2.5" fill="#fff" stroke="#000" stroke-width="0.75"/>
<circle cx="173.50" cy="440.73" r="2.5" fill="#fff" stroke="#000" stroke-width="0.75"/>
<circle cx="177.18" cy="443.38" r="2.5" fill="#fff" stroke="#000" stroke-width="0.75"/>
<circle cx="169.82" cy="448.49" r="2.5" fill="#fff" stroke="#000" stroke-width="0.75"/>
<circle cx="203.14" cy="421.31" r="2.5" fill="#fff" stroke="#000" stroke-width="0.75"/>
<circle cx="198.64" cy="427.44" r="2.5" fill="#fff" stroke="#000" stroke-width="0.75"/>
<circle cx="207.63" cy="425.81" r="2.5" fill="#fff" stroke="#000" stroke-width="0.75"/>
<circle cx="203.55" cy="427.44" r="2.5" fill="#fff" stroke="#000" stroke-width="0.75"/>
<circle cx="200.68" cy="431.94" r="2.5" fill="#fff" stroke="#000" stroke-width="0.75"/>
<circle cx="205.18" cy="429.49" r="2.5" fill="#fff" stroke="#000" stroke-width="0.75"/>
<circle cx="199.66" cy="435.21" r="2.5" fill="#fff" stroke="#000" stroke-width="0.75"/>
<circle cx="207.22" cy="435.62" r="2.5" fill="#fff" stroke="#000" stroke-width="0.75"/>
<circle cx="201.09" cy="440.11" r="2.5" fill="#fff" stroke="#000" stroke-width="0.75"/>
<circle cx="205.79" cy="440.73" r="2.5" fill="#fff" stroke="#000" stroke-width="0.75"/>
<circle cx="203.14" cy="455.03" r="2.5" fill="#fff" stroke="#000" stroke-width="0.75"/>
<circle cx="232.77" cy="420.70" r="2.5" fill="#fff" stroke="#000" stroke-width="0.75"/>
<circle cx="226.64" cy="423.97" r="2.5" fill="#fff" stroke="#000" stroke-width="0.75"/>
<circle cx="232.77" cy="428.47" r="2.5" fill="#fff" stroke="#000" stroke-width="0.75"/>
<circle cx="238.90" cy="427.85" r="2.5" fill="#fff" stroke="#000" stroke-width="0.75"/>
<circle cx="226.64" cy="431.53" r="2.5" fill="#fff" stroke="#000" stroke-width="0.75"/>
<circle cx="230.73" cy="436.03" r="2.5" fill="#fff" stroke="#000" stroke-width="0.75"/>
<circle cx="235.84" cy="433.57" r="2.5" fill="#fff" stroke="#000" stroke-width="0.75"/>
<circle cx="233.38" cy="437.25" r="2.5" fill="#fff" stroke="#000" stroke-width="0.75"/>
<circle cx="226.64" cy="443.38" r="2.5" fill="#fff" stroke="#000" stroke-width="0.75"/>
<circle cx="238.90" cy="447.47" r="2.5" fill="#fff" stroke="#000" stroke-width="0.75"/>
<circle cx="232.77" cy="450.95" r="2.5" fill="#fff" stroke="#000" stroke-width="0.75"/>
<text x="84.5" y="390.5" font-size="14" text-anchor="middle" font-weight="bold" letter-spacing="0.0">**</text>
<line x1="161.60" y1="391.70" x2="241.00" y2="391.70" stroke="#000" stroke-width="1.0"/>
<text x="202.8" y="387.1" font-size="14" text-anchor="middle" font-weight="bold" letter-spacing="0.0">**</text>
<text x="19.6" y="452.6" font-size="12.7" text-anchor="middle" font-weight="normal" fill="#000" transform="rotate(-90 19.6 448.0)">Blood glucose (mg/dL)</text>
<text x="298.4" y="364.5" font-size="18.5" text-anchor="start" font-weight="bold" fill="#000">(D)</text>
<line x1="380.70" y1="477.94" x2="380.70" y2="475.92" stroke="#000" stroke-width="1.0"/>
<line x1="377.70" y1="475.92" x2="383.70" y2="475.92" stroke="#000" stroke-width="1.0"/>
<rect x="371.40" y="477.94" width="18.60" height="27.96" fill="#ff0000"/>
<line x1="408.60" y1="454.10" x2="408.60" y2="446.42" stroke="#000" stroke-width="1.0"/>
<line x1="405.60" y1="446.42" x2="411.60" y2="446.42" stroke="#000" stroke-width="1.0"/>
<rect x="399.30" y="454.10" width="18.60" height="51.80" fill="#000000"/>
<line x1="436.60" y1="452.89" x2="436.60" y2="449.25" stroke="#000" stroke-width="1.0"/>
<line x1="433.60" y1="449.25" x2="439.60" y2="449.25" stroke="#000" stroke-width="1.0"/>
<rect x="427.30" y="452.89" width="18.60" height="53.01" fill="#808080"/>
<line x1="464.50" y1="488.93" x2="464.50" y2="485.29" stroke="#000" stroke-width="1.0"/>
<line x1="461.50" y1="485.29" x2="467.50" y2="485.29" stroke="#000" stroke-width="1.0"/>
<rect x="455.20" y="488.93" width="18.60" height="16.97" fill="#0000ff"/>
<line x1="492.50" y1="485.13" x2="492.50" y2="480.69" stroke="#000" stroke-width="1.0"/>
<line x1="489.50" y1="480.69" x2="495.50" y2="480.69" stroke="#000" stroke-width="1.0"/>
<rect x="483.20" y="485.13" width="18.60" height="20.77" fill="#ff8000"/>
<line x1="520.50" y1="488.85" x2="520.50" y2="485.62" stroke="#000" stroke-width="1.0"/>
<line x1="517.50" y1="485.62" x2="523.50" y2="485.62" stroke="#000" stroke-width="1.0"/>
<rect x="511.20" y="488.85" width="18.60" height="17.05" fill="#00bf00"/>
<line x1="358.20" y1="505.90" x2="362.20" y2="505.90" stroke="#000" stroke-width="1.3"/>
<text x="351.5" y="510.4" font-size="12.5" text-anchor="end" font-weight="normal" fill="#000">0</text>
<line x1="358.20" y1="465.50" x2="362.20" y2="465.50" stroke="#000" stroke-width="1.3"/>
<text x="351.5" y="470.0" font-size="12.5" text-anchor="end" font-weight="normal" fill="#000">500</text>
<line x1="358.20" y1="425.09" x2="362.20" y2="425.09" stroke="#000" stroke-width="1.3"/>
<text x="351.5" y="429.6" font-size="12.5" text-anchor="end" font-weight="normal" fill="#000">1000</text>
<line x1="358.20" y1="384.68" x2="362.20" y2="384.68" stroke="#000" stroke-width="1.3"/>
<text x="351.5" y="389.2" font-size="12.5" text-anchor="end" font-weight="normal" fill="#000">1500</text>
<line x1="362.20" y1="384.50" x2="362.20" y2="506.55" stroke="#000" stroke-width="1.3"/>
<line x1="361.55" y1="505.90" x2="540.10" y2="505.90" stroke="#000" stroke-width="1.6"/>
<line x1="380.70" y1="505.90" x2="380.70" y2="509.50" stroke="#000" stroke-width="1.3"/>
<line x1="408.60" y1="505.90" x2="408.60" y2="509.50" stroke="#000" stroke-width="1.3"/>
<line x1="436.60" y1="505.90" x2="436.60" y2="509.50" stroke="#000" stroke-width="1.3"/>
<line x1="464.50" y1="505.90" x2="464.50" y2="509.50" stroke="#000" stroke-width="1.3"/>
<line x1="492.50" y1="505.90" x2="492.50" y2="509.50" stroke="#000" stroke-width="1.3"/>
<line x1="520.50" y1="505.90" x2="520.50" y2="509.50" stroke="#000" stroke-width="1.3"/>
<circle cx="380.59" cy="466.58" r="2.5" fill="#fff" stroke="#000" stroke-width="0.75"/>
<circle cx="386.80" cy="470.80" r="2.5" fill="#fff" stroke="#000" stroke-width="0.75"/>
<circle cx="375.13" cy="474.77" r="2.5" fill="#fff" stroke="#000" stroke-width="0.75"/>
<circle cx="379.85" cy="475.77" r="2.5" fill="#fff" stroke="#000" stroke-width="0.75"/>
<circle cx="385.56" cy="478.50" r="2.5" fill="#fff" stroke="#000" stroke-width="0.75"/>
<circle cx="377.37" cy="480.98" r="2.5" fill="#fff" stroke="#000" stroke-width="0.75"/>
<circle cx="381.83" cy="482.72" r="2.5" fill="#fff" stroke="#000" stroke-width="0.75"/>
<circle cx="379.85" cy="485.20" r="2.5" fill="#fff" stroke="#000" stroke-width="0.75"/>
<circle cx="375.63" cy="478.99" r="2.5" fill="#fff" stroke="#000" stroke-width="0.75"/>
<circle cx="408.64" cy="392.62" r="2.5" fill="#fff" stroke="#000" stroke-width="0.75"/>
<circle cx="408.64" cy="416.20" r="2.5" fill="#fff" stroke="#000" stroke-width="0.75"/>
<circle cx="408.64" cy="432.58" r="2.5" fill="#fff" stroke="#000" stroke-width="0.75"/>
<circle cx="405.41" cy="443.75" r="2.5" fill="#fff" stroke="#000" stroke-width="0.75"/>
<circle cx="412.11" cy="449.95" r="2.5" fill="#fff" stroke="#000" stroke-width="0.75"/>
<circle cx="436.93" cy="420.67" r="2.5" fill="#fff" stroke="#000" stroke-width="0.75"/>
<circle cx="436.93" cy="442.26" r="2.5" fill="#fff" stroke="#000" stroke-width="0.75"/>
<circle cx="430.98" cy="449.70" r="2.5" fill="#fff" stroke="#000" stroke-width="0.75"/>
<circle cx="436.93" cy="450.45" r="2.5" fill="#fff" stroke="#000" stroke-width="0.75"/>
<circle cx="442.64" cy="449.21" r="2.5" fill="#fff" stroke="#000" stroke-width="0.75"/>
<circle cx="433.96" cy="452.93" r="2.5" fill="#fff" stroke="#000" stroke-width="0.75"/>
<circle cx="440.16" cy="454.67" r="2.5" fill="#fff" stroke="#000" stroke-width="0.75"/>
<circle cx="433.96" cy="459.14" r="2.5" fill="#fff" stroke="#000" stroke-width="0.75"/>
<circle cx="438.92" cy="460.38" r="2.5" fill="#fff" stroke="#000" stroke-width="0.75"/>
<circle cx="441.40" cy="469.06" r="2.5" fill="#fff" stroke="#000" stroke-width="0.75"/>
<circle cx="432.96" cy="476.01" r="2.5" fill="#fff" stroke="#000" stroke-width="0.75"/>
<circle cx="459.01" cy="455.47" r="2.5" fill="#fff" stroke="#000" stroke-width="0.75"/>
<circle cx="470.66" cy="454.86" r="2.5" fill="#fff" stroke="#000" stroke-width="0.75"/>
<circle cx="464.73" cy="461.19" r="2.5" fill="#fff" stroke="#000" stroke-width="0.75"/>
<circle cx="464.73" cy="485.72" r="2.5" fill="#fff" stroke="#000" stroke-width="0.75"/>
<circle cx="457.78" cy="493.89" r="2.5" fill="#fff" stroke="#000" stroke-width="0.75"/>
<circle cx="471.68" cy="497.37" r="2.5" fill="#fff" stroke="#000" stroke-width="0.75"/>
<circle cx="460.44" cy="500.84" r="2.5" fill="#fff" stroke="#000" stroke-width="0.75"/>
<circle cx="469.63" cy="501.46" r="2.5" fill="#fff" stroke="#000" stroke-width="0.75"/>
<circle cx="463.50" cy="505.54" r="2.5" fill="#fff" stroke="#000" stroke-width="0.75"/>
<circle cx="466.57" cy="505.13" r="2.5" fill="#fff" stroke="#000" stroke-width="0.75"/>
<circle cx="492.73" cy="432.38" r="2.5" fill="#fff" stroke="#000" stroke-width="0.75"/>
<circle cx="492.73" cy="440.55" r="2.5" fill="#fff" stroke="#000" stroke-width="0.75"/>
<circle cx="492.73" cy="472.84" r="2.5" fill="#fff" stroke="#000" stroke-width="0.75"/>
<circle cx="496.20" cy="481.02" r="2.5" fill="#fff" stroke="#000" stroke-width="0.75"/>
<circle cx="489.05" cy="485.11" r="2.5" fill="#fff" stroke="#000" stroke-width="0.75"/>
<circle cx="492.73" cy="495.94" r="2.5" fill="#fff" stroke="#000" stroke-width="0.75"/>
<circle cx="488.44" cy="502.89" r="2.5" fill="#fff" stroke="#000" stroke-width="0.75"/>
<circle cx="497.22" cy="502.07" r="2.5" fill="#fff" stroke="#000" stroke-width="0.75"/>
<circle cx="491.50" cy="505.13" r="2.5" fill="#fff" stroke="#000" stroke-width="0.75"/>
<circle cx="494.16" cy="503.50" r="2.5" fill="#fff" stroke="#000" stroke-width="0.75"/>
<circle cx="517.05" cy="442.19" r="2.5" fill="#fff" stroke="#000" stroke-width="0.75"/>
<circle cx="524.20" cy="443.82" r="2.5" fill="#fff" stroke="#000" stroke-width="0.75"/>
<circle cx="517.05" cy="482.65" r="2.5" fill="#fff" stroke="#000" stroke-width="0.75"/>
<circle cx="524.20" cy="481.63" r="2.5" fill="#fff" stroke="#000" stroke-width="0.75"/>
<circle cx="515.21" cy="497.98" r="2.5" fill="#fff" stroke="#000" stroke-width="0.75"/>
<circle cx="520.73" cy="498.80" r="2.5" fill="#fff" stroke="#000" stroke-width="0.75"/>
<circle cx="526.45" cy="497.37" r="2.5" fill="#fff" stroke="#000" stroke-width="0.75"/>
<circle cx="517.25" cy="501.46" r="2.5" fill="#fff" stroke="#000" stroke-width="0.75"/>
<circle cx="526.86" cy="503.09" r="2.5" fill="#fff" stroke="#000" stroke-width="0.75"/>
<circle cx="522.77" cy="505.95" r="2.5" fill="#fff" stroke="#000" stroke-width="0.75"/>
<circle cx="402.93" cy="460.87" r="2.4" fill="#fff" stroke="#fff" stroke-width="0.1"/>
<circle cx="414.60" cy="462.11" r="2.4" fill="#fff" stroke="#fff" stroke-width="0.1"/>
<circle cx="408.64" cy="466.58" r="2.4" fill="#fff" stroke="#fff" stroke-width="0.1"/>
<circle cx="408.64" cy="476.51" r="2.4" fill="#fff" stroke="#fff" stroke-width="0.1"/>
<circle cx="402.93" cy="481.47" r="2.4" fill="#fff" stroke="#fff" stroke-width="0.1"/>
<circle cx="414.60" cy="482.22" r="2.4" fill="#fff" stroke="#fff" stroke-width="0.1"/>
<circle cx="408.64" cy="485.69" r="2.4" fill="#fff" stroke="#fff" stroke-width="0.1"/>
<text x="379.8" y="410.6" font-size="14" text-anchor="middle" font-weight="bold" letter-spacing="0.0">*</text>
<line x1="457.40" y1="415.00" x2="533.40" y2="415.00" stroke="#000" stroke-width="1.0"/>
<text x="496.7" y="408.0" font-size="14" text-anchor="middle" font-weight="bold" letter-spacing="0.0">**</text>
<text x="310.8" y="440.0" font-size="13.8" text-anchor="middle" font-weight="normal" fill="#000" transform="rotate(-90 310.8 435.0)">Insulin (pg/mL)</text>
<rect x="574.60" y="368.20" width="16.00" height="15.60" fill="#ff0000"/>
<text x="598.9" y="381.1" font-size="14" text-anchor="start" font-weight="normal" fill="#000">NC</text>
<rect x="574.60" y="392.20" width="16.00" height="15.60" fill="#000000"/>
<text x="598.9" y="405.1" font-size="14" text-anchor="start" font-weight="normal" fill="#000">HFD</text>
<rect x="574.60" y="416.00" width="16.00" height="15.60" fill="#7f7f7f"/>
<text x="598.9" y="428.9" font-size="14" text-anchor="start" font-weight="normal" fill="#000">HFD_Cell</text>
<rect x="574.60" y="439.60" width="16.00" height="15.60" fill="#2424ee"/>
<text x="598.9" y="452.5" font-size="14" text-anchor="start" font-weight="normal" fill="#000">HFD_Ace</text>
<rect x="574.60" y="463.70" width="16.00" height="15.60" fill="#ed7d31"/>
<text x="598.9" y="476.6" font-size="14" text-anchor="start" font-weight="normal" fill="#000">HFD_Pro</text>
<rect x="574.60" y="488.00" width="16.00" height="15.60" fill="#00b050"/>
<text x="598.9" y="500.9" font-size="14" text-anchor="start" font-weight="normal" fill="#000">HFD_But</text>
<text x="-1.5" y="544.8" font-size="18.5" text-anchor="start" font-weight="bold" fill="#000">(E)</text>
<polyline points="40.00,705.71 56.19,612.46 72.38,604.92 104.75,634.83 137.13,666.09 169.50,682.00" fill="none" stroke="#8a8a8a" stroke-width="1.8"/>
<polyline points="40.00,705.17 56.19,603.57 72.38,604.38 104.75,646.42 137.13,676.07 169.50,687.92" fill="none" stroke="#ff7010" stroke-width="1.8"/>
<polyline points="40.00,705.98 56.19,604.38 72.38,603.03 104.75,645.34 137.13,675.53 169.50,687.12" fill="none" stroke="#008000" stroke-width="1.8"/>
<polyline points="40.00,704.90 56.19,601.41 72.38,598.18 104.75,650.46 137.13,678.76 169.50,689.27" fill="none" stroke="#0000dd" stroke-width="1.8"/>
<polyline points="40.00,705.44 56.19,614.89 72.38,611.39 104.75,648.31 137.13,676.61 169.50,693.58" fill="none" stroke="#ff2020" stroke-width="1.8"/>
<polyline points="40.00,706.25 56.19,604.92 72.38,598.99 104.75,631.33 137.13,662.86 169.50,680.65" fill="none" stroke="#000" stroke-width="1.8"/>
<line x1="40.00" y1="703.56" x2="40.00" y2="707.87" stroke="#8a8a8a" stroke-width="1.2"/>
<line x1="38.00" y1="703.56" x2="42.00" y2="703.56" stroke="#8a8a8a" stroke-width="1.6"/>
<line x1="38.00" y1="707.87" x2="42.00" y2="707.87" stroke="#8a8a8a" stroke-width="1.6"/>
<ellipse cx="40.00" cy="705.71" rx="2.1" ry="2.6" fill="none" stroke="#8a8a8a" stroke-width="1.1"/>
<line x1="56.19" y1="607.07" x2="56.19" y2="617.85" stroke="#8a8a8a" stroke-width="1.2"/>
<line x1="54.19" y1="607.07" x2="58.19" y2="607.07" stroke="#8a8a8a" stroke-width="1.6"/>
<line x1="54.19" y1="617.85" x2="58.19" y2="617.85" stroke="#8a8a8a" stroke-width="1.6"/>
<ellipse cx="56.19" cy="612.46" rx="2.1" ry="2.6" fill="none" stroke="#8a8a8a" stroke-width="1.1"/>
<line x1="72.38" y1="599.53" x2="72.38" y2="610.31" stroke="#8a8a8a" stroke-width="1.2"/>
<line x1="70.38" y1="599.53" x2="74.38" y2="599.53" stroke="#8a8a8a" stroke-width="1.6"/>
<line x1="70.38" y1="610.31" x2="74.38" y2="610.31" stroke="#8a8a8a" stroke-width="1.6"/>
<ellipse cx="72.38" cy="604.92" rx="2.1" ry="2.6" fill="none" stroke="#8a8a8a" stroke-width="1.1"/>
<line x1="104.75" y1="629.44" x2="104.75" y2="640.22" stroke="#8a8a8a" stroke-width="1.2"/>
<line x1="102.75" y1="629.44" x2="106.75" y2="629.44" stroke="#8a8a8a" stroke-width="1.6"/>
<line x1="102.75" y1="640.22" x2="106.75" y2="640.22" stroke="#8a8a8a" stroke-width="1.6"/>
<ellipse cx="104.75" cy="634.83" rx="2.1" ry="2.6" fill="none" stroke="#8a8a8a" stroke-width="1.1"/>
<line x1="137.13" y1="662.05" x2="137.13" y2="670.14" stroke="#8a8a8a" stroke-width="1.2"/>
<line x1="135.13" y1="662.05" x2="139.13" y2="662.05" stroke="#8a8a8a" stroke-width="1.6"/>
<line x1="135.13" y1="670.14" x2="139.13" y2="670.14" stroke="#8a8a8a" stroke-width="1.6"/>
<ellipse cx="137.13" cy="666.09" rx="2.1" ry="2.6" fill="none" stroke="#8a8a8a" stroke-width="1.1"/>
<line x1="169.50" y1="679.30" x2="169.50" y2="684.69" stroke="#8a8a8a" stroke-width="1.2"/>
<line x1="167.50" y1="679.30" x2="171.50" y2="679.30" stroke="#8a8a8a" stroke-width="1.6"/>
<line x1="167.50" y1="684.69" x2="171.50" y2="684.69" stroke="#8a8a8a" stroke-width="1.6"/>
<ellipse cx="169.50" cy="682.00" rx="2.1" ry="2.6" fill="none" stroke="#8a8a8a" stroke-width="1.1"/>
<line x1="40.00" y1="703.02" x2="40.00" y2="707.33" stroke="#ff7010" stroke-width="1.2"/>
<line x1="38.00" y1="703.02" x2="42.00" y2="703.02" stroke="#ff7010" stroke-width="1.6"/>
<line x1="38.00" y1="707.33" x2="42.00" y2="707.33" stroke="#ff7010" stroke-width="1.6"/>
<ellipse cx="40.00" cy="705.17" rx="2.1" ry="2.6" fill="none" stroke="#ff7010" stroke-width="1.1"/>
<line x1="56.19" y1="596.83" x2="56.19" y2="610.31" stroke="#ff7010" stroke-width="1.2"/>
<line x1="54.19" y1="596.83" x2="58.19" y2="596.83" stroke="#ff7010" stroke-width="1.6"/>
<line x1="54.19" y1="610.31" x2="58.19" y2="610.31" stroke="#ff7010" stroke-width="1.6"/>
<ellipse cx="56.19" cy="603.57" rx="2.1" ry="2.6" fill="none" stroke="#ff7010" stroke-width="1.1"/>
<line x1="72.38" y1="597.64" x2="72.38" y2="611.12" stroke="#ff7010" stroke-width="1.2"/>
<line x1="70.38" y1="597.64" x2="74.38" y2="597.64" stroke="#ff7010" stroke-width="1.6"/>
<line x1="70.38" y1="611.12" x2="74.38" y2="611.12" stroke="#ff7010" stroke-width="1.6"/>
<ellipse cx="72.38" cy="604.38" rx="2.1" ry="2.6" fill="none" stroke="#ff7010" stroke-width="1.1"/>
<line x1="104.75" y1="639.68" x2="104.75" y2="653.16" stroke="#ff7010" stroke-width="1.2"/>
<line x1="102.75" y1="639.68" x2="106.75" y2="639.68" stroke="#ff7010" stroke-width="1.6"/>
<line x1="102.75" y1="653.16" x2="106.75" y2="653.16" stroke="#ff7010" stroke-width="1.6"/>
<ellipse cx="104.75" cy="646.42" rx="2.1" ry="2.6" fill="none" stroke="#ff7010" stroke-width="1.1"/>
<line x1="137.13" y1="672.02" x2="137.13" y2="680.11" stroke="#ff7010" stroke-width="1.2"/>
<line x1="135.13" y1="672.02" x2="139.13" y2="672.02" stroke="#ff7010" stroke-width="1.6"/>
<line x1="135.13" y1="680.11" x2="139.13" y2="680.11" stroke="#ff7010" stroke-width="1.6"/>
<ellipse cx="137.13" cy="676.07" rx="2.1" ry="2.6" fill="none" stroke="#ff7010" stroke-width="1.1"/>
<line x1="169.50" y1="684.69" x2="169.50" y2="691.16" stroke="#ff7010" stroke-width="1.2"/>
<line x1="167.50" y1="684.69" x2="171.50" y2="684.69" stroke="#ff7010" stroke-width="1.6"/>
<line x1="167.50" y1="691.16" x2="171.50" y2="691.16" stroke="#ff7010" stroke-width="1.6"/>
<ellipse cx="169.50" cy="687.92" rx="2.1" ry="2.6" fill="none" stroke="#ff7010" stroke-width="1.1"/>
<line x1="40.00" y1="703.82" x2="40.00" y2="708.14" stroke="#008000" stroke-width="1.2"/>
<line x1="38.00" y1="703.82" x2="42.00" y2="703.82" stroke="#008000" stroke-width="1.6"/>
<line x1="38.00" y1="708.14" x2="42.00" y2="708.14" stroke="#008000" stroke-width="1.6"/>
<ellipse cx="40.00" cy="705.98" rx="2.1" ry="2.6" fill="none" stroke="#008000" stroke-width="1.1"/>
<line x1="56.19" y1="597.64" x2="56.19" y2="611.12" stroke="#008000" stroke-width="1.2"/>
<line x1="54.19" y1="597.64" x2="58.19" y2="597.64" stroke="#008000" stroke-width="1.6"/>
<line x1="54.19" y1="611.12" x2="58.19" y2="611.12" stroke="#008000" stroke-width="1.6"/>
<ellipse cx="56.19" cy="604.38" rx="2.1" ry="2.6" fill="none" stroke="#008000" stroke-width="1.1"/>
<line x1="72.38" y1="596.29" x2="72.38" y2="609.77" stroke="#008000" stroke-width="1.2"/>
<line x1="70.38" y1="596.29" x2="74.38" y2="596.29" stroke="#008000" stroke-width="1.6"/>
<line x1="70.38" y1="609.77" x2="74.38" y2="609.77" stroke="#008000" stroke-width="1.6"/>
<ellipse cx="72.38" cy="603.03" rx="2.1" ry="2.6" fill="none" stroke="#008000" stroke-width="1.1"/>
<line x1="104.75" y1="638.61" x2="104.75" y2="652.08" stroke="#008000" stroke-width="1.2"/>
<line x1="102.75" y1="638.61" x2="106.75" y2="638.61" stroke="#008000" stroke-width="1.6"/>
<line x1="102.75" y1="652.08" x2="106.75" y2="652.08" stroke="#008000" stroke-width="1.6"/>
<ellipse cx="104.75" cy="645.34" rx="2.1" ry="2.6" fill="none" stroke="#008000" stroke-width="1.1"/>
<line x1="137.13" y1="671.48" x2="137.13" y2="679.57" stroke="#008000" stroke-width="1.2"/>
<line x1="135.13" y1="671.48" x2="139.13" y2="671.48" stroke="#008000" stroke-width="1.6"/>
<line x1="135.13" y1="679.57" x2="139.13" y2="679.57" stroke="#008000" stroke-width="1.6"/>
<ellipse cx="137.13" cy="675.53" rx="2.1" ry="2.6" fill="none" stroke="#008000" stroke-width="1.1"/>
<line x1="169.50" y1="683.88" x2="169.50" y2="690.35" stroke="#008000" stroke-width="1.2"/>
<line x1="167.50" y1="683.88" x2="171.50" y2="683.88" stroke="#008000" stroke-width="1.6"/>
<line x1="167.50" y1="690.35" x2="171.50" y2="690.35" stroke="#008000" stroke-width="1.6"/>
<ellipse cx="169.50" cy="687.12" rx="2.1" ry="2.6" fill="none" stroke="#008000" stroke-width="1.1"/>
<line x1="40.00" y1="702.21" x2="40.00" y2="707.60" stroke="#0000dd" stroke-width="1.2"/>
<line x1="38.00" y1="702.21" x2="42.00" y2="702.21" stroke="#0000dd" stroke-width="1.6"/>
<line x1="38.00" y1="707.60" x2="42.00" y2="707.60" stroke="#0000dd" stroke-width="1.6"/>
<ellipse cx="40.00" cy="704.90" rx="2.1" ry="2.6" fill="none" stroke="#0000dd" stroke-width="1.1"/>
<line x1="56.19" y1="593.33" x2="56.19" y2="609.50" stroke="#0000dd" stroke-width="1.2"/>
<line x1="54.19" y1="593.33" x2="58.19" y2="593.33" stroke="#0000dd" stroke-width="1.6"/>
<line x1="54.19" y1="609.50" x2="58.19" y2="609.50" stroke="#0000dd" stroke-width="1.6"/>
<ellipse cx="56.19" cy="601.41" rx="2.1" ry="2.6" fill="none" stroke="#0000dd" stroke-width="1.1"/>
<line x1="72.38" y1="587.40" x2="72.38" y2="608.96" stroke="#0000dd" stroke-width="1.2"/>
<line x1="70.38" y1="587.40" x2="74.38" y2="587.40" stroke="#0000dd" stroke-width="1.6"/>
<line x1="70.38" y1="608.96" x2="74.38" y2="608.96" stroke="#0000dd" stroke-width="1.6"/>
<ellipse cx="72.38" cy="598.18" rx="2.1" ry="2.6" fill="none" stroke="#0000dd" stroke-width="1.1"/>
<line x1="104.75" y1="639.68" x2="104.75" y2="661.24" stroke="#0000dd" stroke-width="1.2"/>
<line x1="102.75" y1="639.68" x2="106.75" y2="639.68" stroke="#0000dd" stroke-width="1.6"/>
<line x1="102.75" y1="661.24" x2="106.75" y2="661.24" stroke="#0000dd" stroke-width="1.6"/>
<ellipse cx="104.75" cy="650.46" rx="2.1" ry="2.6" fill="none" stroke="#0000dd" stroke-width="1.1"/>
<line x1="137.13" y1="674.72" x2="137.13" y2="682.80" stroke="#0000dd" stroke-width="1.2"/>
<line x1="135.13" y1="674.72" x2="139.13" y2="674.72" stroke="#0000dd" stroke-width="1.6"/>
<line x1="135.13" y1="682.80" x2="139.13" y2="682.80" stroke="#0000dd" stroke-width="1.6"/>
<ellipse cx="137.13" cy="678.76" rx="2.1" ry="2.6" fill="none" stroke="#0000dd" stroke-width="1.1"/>
<line x1="169.50" y1="686.04" x2="169.50" y2="692.51" stroke="#0000dd" stroke-width="1.2"/>
<line x1="167.50" y1="686.04" x2="171.50" y2="686.04" stroke="#0000dd" stroke-width="1.6"/>
<line x1="167.50" y1="692.51" x2="171.50" y2="692.51" stroke="#0000dd" stroke-width="1.6"/>
<ellipse cx="169.50" cy="689.27" rx="2.1" ry="2.6" fill="none" stroke="#0000dd" stroke-width="1.1"/>
<line x1="40.00" y1="703.29" x2="40.00" y2="707.60" stroke="#ff2020" stroke-width="1.2"/>
<line x1="38.00" y1="703.29" x2="42.00" y2="703.29" stroke="#ff2020" stroke-width="1.6"/>
<line x1="38.00" y1="707.60" x2="42.00" y2="707.60" stroke="#ff2020" stroke-width="1.6"/>
<ellipse cx="40.00" cy="705.44" rx="2.1" ry="2.6" fill="none" stroke="#ff2020" stroke-width="1.1"/>
<line x1="56.19" y1="606.80" x2="56.19" y2="622.97" stroke="#ff2020" stroke-width="1.2"/>
<line x1="54.19" y1="606.80" x2="58.19" y2="606.80" stroke="#ff2020" stroke-width="1.6"/>
<line x1="54.19" y1="622.97" x2="58.19" y2="622.97" stroke="#ff2020" stroke-width="1.6"/>
<ellipse cx="56.19" cy="614.89" rx="2.1" ry="2.6" fill="none" stroke="#ff2020" stroke-width="1.1"/>
<line x1="72.38" y1="606.54" x2="72.38" y2="616.24" stroke="#ff2020" stroke-width="1.2"/>
<line x1="70.38" y1="606.54" x2="74.38" y2="606.54" stroke="#ff2020" stroke-width="1.6"/>
<line x1="70.38" y1="616.24" x2="74.38" y2="616.24" stroke="#ff2020" stroke-width="1.6"/>
<ellipse cx="72.38" cy="611.39" rx="2.1" ry="2.6" fill="none" stroke="#ff2020" stroke-width="1.1"/>
<line x1="104.75" y1="641.57" x2="104.75" y2="655.05" stroke="#ff2020" stroke-width="1.2"/>
<line x1="102.75" y1="641.57" x2="106.75" y2="641.57" stroke="#ff2020" stroke-width="1.6"/>
<line x1="102.75" y1="655.05" x2="106.75" y2="655.05" stroke="#ff2020" stroke-width="1.6"/>
<ellipse cx="104.75" cy="648.31" rx="2.1" ry="2.6" fill="none" stroke="#ff2020" stroke-width="1.1"/>
<line x1="137.13" y1="672.56" x2="137.13" y2="680.65" stroke="#ff2020" stroke-width="1.2"/>
<line x1="135.13" y1="672.56" x2="139.13" y2="672.56" stroke="#ff2020" stroke-width="1.6"/>
<line x1="135.13" y1="680.65" x2="139.13" y2="680.65" stroke="#ff2020" stroke-width="1.6"/>
<ellipse cx="137.13" cy="676.61" rx="2.1" ry="2.6" fill="none" stroke="#ff2020" stroke-width="1.1"/>
<line x1="169.50" y1="689.27" x2="169.50" y2="697.90" stroke="#ff2020" stroke-width="1.2"/>
<line x1="167.50" y1="689.27" x2="171.50" y2="689.27" stroke="#ff2020" stroke-width="1.6"/>
<line x1="167.50" y1="697.90" x2="171.50" y2="697.90" stroke="#ff2020" stroke-width="1.6"/>
<ellipse cx="169.50" cy="693.58" rx="2.1" ry="2.6" fill="none" stroke="#ff2020" stroke-width="1.1"/>
<line x1="40.00" y1="704.09" x2="40.00" y2="708.41" stroke="#000" stroke-width="1.2"/>
<line x1="38.00" y1="704.09" x2="42.00" y2="704.09" stroke="#000" stroke-width="1.6"/>
<line x1="38.00" y1="708.41" x2="42.00" y2="708.41" stroke="#000" stroke-width="1.6"/>
<ellipse cx="40.00" cy="706.25" rx="2.1" ry="2.6" fill="none" stroke="#000" stroke-width="1.1"/>
<line x1="56.19" y1="596.83" x2="56.19" y2="613.00" stroke="#000" stroke-width="1.2"/>
<line x1="54.19" y1="596.83" x2="58.19" y2="596.83" stroke="#000" stroke-width="1.6"/>
<line x1="54.19" y1="613.00" x2="58.19" y2="613.00" stroke="#000" stroke-width="1.6"/>
<ellipse cx="56.19" cy="604.92" rx="2.1" ry="2.6" fill="none" stroke="#000" stroke-width="1.1"/>
<line x1="72.38" y1="590.90" x2="72.38" y2="607.07" stroke="#000" stroke-width="1.2"/>
<line x1="70.38" y1="590.90" x2="74.38" y2="590.90" stroke="#000" stroke-width="1.6"/>
<line x1="70.38" y1="607.07" x2="74.38" y2="607.07" stroke="#000" stroke-width="1.6"/>
<ellipse cx="72.38" cy="598.99" rx="2.1" ry="2.6" fill="none" stroke="#000" stroke-width="1.1"/>
<line x1="104.75" y1="619.20" x2="104.75" y2="643.46" stroke="#000" stroke-width="1.2"/>
<line x1="102.75" y1="619.20" x2="106.75" y2="619.20" stroke="#000" stroke-width="1.6"/>
<line x1="102.75" y1="643.46" x2="106.75" y2="643.46" stroke="#000" stroke-width="1.6"/>
<ellipse cx="104.75" cy="631.33" rx="2.1" ry="2.6" fill="none" stroke="#000" stroke-width="1.1"/>
<line x1="137.13" y1="656.12" x2="137.13" y2="669.60" stroke="#000" stroke-width="1.2"/>
<line x1="135.13" y1="656.12" x2="139.13" y2="656.12" stroke="#000" stroke-width="1.6"/>
<line x1="135.13" y1="669.60" x2="139.13" y2="669.60" stroke="#000" stroke-width="1.6"/>
<ellipse cx="137.13" cy="662.86" rx="2.1" ry="2.6" fill="none" stroke="#000" stroke-width="1.1"/>
<line x1="169.50" y1="676.61" x2="169.50" y2="684.69" stroke="#000" stroke-width="1.2"/>
<line x1="167.50" y1="676.61" x2="171.50" y2="676.61" stroke="#000" stroke-width="1.6"/>
<line x1="167.50" y1="684.69" x2="171.50" y2="684.69" stroke="#000" stroke-width="1.6"/>
<ellipse cx="169.50" cy="680.65" rx="2.1" ry="2.6" fill="none" stroke="#000" stroke-width="1.1"/>
<line x1="40.00" y1="571.00" x2="40.00" y2="733.80" stroke="#000" stroke-width="1.3"/>
<line x1="39.40" y1="733.20" x2="169.80" y2="733.20" stroke="#000" stroke-width="1.3"/>
<line x1="36.00" y1="733.20" x2="40.00" y2="733.20" stroke="#000" stroke-width="1.3"/>
<text x="34.4" y="736.9" font-size="10.2" text-anchor="end" font-weight="normal" fill="#000">0</text>
<line x1="36.00" y1="679.30" x2="40.00" y2="679.30" stroke="#000" stroke-width="1.3"/>
<text x="34.4" y="683.0" font-size="10.2" text-anchor="end" font-weight="normal" fill="#000">200</text>
<line x1="36.00" y1="625.40" x2="40.00" y2="625.40" stroke="#000" stroke-width="1.3"/>
<text x="34.4" y="629.1" font-size="10.2" text-anchor="end" font-weight="normal" fill="#000">400</text>
<line x1="36.00" y1="571.50" x2="40.00" y2="571.50" stroke="#000" stroke-width="1.3"/>
<text x="34.4" y="575.2" font-size="10.2" text-anchor="end" font-weight="normal" fill="#000">600</text>
<line x1="40.00" y1="733.20" x2="40.00" y2="736.70" stroke="#000" stroke-width="1.2"/>
<text x="40.0" y="747.1" font-size="10.2" text-anchor="middle" font-weight="normal" fill="#000">0</text>
<line x1="72.38" y1="733.20" x2="72.38" y2="736.70" stroke="#000" stroke-width="1.2"/>
<text x="72.4" y="747.1" font-size="10.2" text-anchor="middle" font-weight="normal" fill="#000">30</text>
<line x1="104.75" y1="733.20" x2="104.75" y2="736.70" stroke="#000" stroke-width="1.2"/>
<text x="104.8" y="747.1" font-size="10.2" text-anchor="middle" font-weight="normal" fill="#000">60</text>
<line x1="137.13" y1="733.20" x2="137.13" y2="736.70" stroke="#000" stroke-width="1.2"/>
<text x="137.1" y="747.1" font-size="10.2" text-anchor="middle" font-weight="normal" fill="#000">90</text>
<line x1="169.50" y1="733.20" x2="169.50" y2="736.70" stroke="#000" stroke-width="1.2"/>
<text x="169.5" y="747.1" font-size="10.2" text-anchor="middle" font-weight="normal" fill="#000">120</text>
<text x="104.8" y="765.3" font-size="11.4" text-anchor="middle" font-weight="normal" fill="#000">Time (min) after glucose i.p.</text>
<text x="5.6" y="649.6" font-size="10.2" text-anchor="middle" font-weight="normal" fill="#000" transform="rotate(-90 5.6 645.9)">Blood glucose (mg/dL)</text>
<text x="98.9" y="656.2" font-size="7.5" text-anchor="middle" font-weight="normal" fill="#000">#</text>
<text x="131.1" y="682.3" font-size="7.5" text-anchor="middle" font-weight="normal" fill="#000">#</text>
<text x="143.0" y="681.2" font-size="9" text-anchor="middle" font-weight="bold" letter-spacing="0.0">*</text>
<text x="147.2" y="679.2" font-size="7.5" text-anchor="middle" font-weight="normal" fill="#000">&#8224;</text>
<text x="151.6" y="679.7" font-size="7.5" text-anchor="middle" font-weight="normal" fill="#000">&#167;</text>
<text x="174.4" y="692.4" font-size="9" text-anchor="middle" font-weight="bold" letter-spacing="0.0">*</text>
<text x="178.6" y="690.4" font-size="7.5" text-anchor="middle" font-weight="normal" fill="#000">&#8224;</text>
<text x="183.0" y="690.9" font-size="7.5" text-anchor="middle" font-weight="normal" fill="#000">&#167;</text>
<text x="163.0" y="701.9" font-size="7.5" text-anchor="middle" font-weight="normal" fill="#000">##</text>
<line x1="219.75" y1="616.76" x2="219.75" y2="614.13" stroke="#000" stroke-width="0.9"/>
<line x1="217.25" y1="614.13" x2="222.25" y2="614.13" stroke="#000" stroke-width="0.9"/>
<rect x="212.90" y="616.76" width="13.70" height="116.14" fill="#ff0000"/>
<line x1="240.45" y1="598.67" x2="240.45" y2="594.72" stroke="#000" stroke-width="0.9"/>
<line x1="237.95" y1="594.72" x2="242.95" y2="594.72" stroke="#000" stroke-width="0.9"/>
<rect x="233.60" y="598.67" width="13.70" height="134.23" fill="#000000"/>
<line x1="261.15" y1="603.60" x2="261.15" y2="600.31" stroke="#000" stroke-width="0.9"/>
<line x1="258.65" y1="600.31" x2="263.65" y2="600.31" stroke="#000" stroke-width="0.9"/>
<rect x="254.30" y="603.60" width="13.70" height="129.30" fill="#808080"/>
<line x1="281.85" y1="611.50" x2="281.85" y2="608.87" stroke="#000" stroke-width="0.9"/>
<line x1="279.35" y1="608.87" x2="284.35" y2="608.87" stroke="#000" stroke-width="0.9"/>
<rect x="275.00" y="611.50" width="13.70" height="121.40" fill="#0000ff"/>
<line x1="302.55" y1="610.18" x2="302.55" y2="607.55" stroke="#000" stroke-width="0.9"/>
<line x1="300.05" y1="607.55" x2="305.05" y2="607.55" stroke="#000" stroke-width="0.9"/>
<rect x="295.70" y="610.18" width="13.70" height="122.72" fill="#ff8000"/>
<line x1="323.15" y1="610.51" x2="323.15" y2="607.88" stroke="#000" stroke-width="0.9"/>
<line x1="320.65" y1="607.88" x2="325.65" y2="607.88" stroke="#000" stroke-width="0.9"/>
<rect x="316.30" y="610.51" width="13.70" height="122.39" fill="#00bf00"/>
<line x1="204.50" y1="732.90" x2="205.70" y2="732.90" stroke="#444" stroke-width="1.0"/>
<text x="197.0" y="736.6" font-size="10" text-anchor="end" font-weight="normal" fill="#000">0</text>
<line x1="204.50" y1="700.00" x2="205.70" y2="700.00" stroke="#444" stroke-width="1.0"/>
<text x="197.0" y="703.7" font-size="10" text-anchor="end" font-weight="normal" fill="#000">10</text>
<line x1="204.50" y1="667.10" x2="205.70" y2="667.10" stroke="#444" stroke-width="1.0"/>
<text x="197.0" y="670.8" font-size="10" text-anchor="end" font-weight="normal" fill="#000">20</text>
<line x1="204.50" y1="634.20" x2="205.70" y2="634.20" stroke="#444" stroke-width="1.0"/>
<text x="197.0" y="637.9" font-size="10" text-anchor="end" font-weight="normal" fill="#000">30</text>
<line x1="204.50" y1="601.30" x2="205.70" y2="601.30" stroke="#444" stroke-width="1.0"/>
<text x="197.0" y="605.0" font-size="10" text-anchor="end" font-weight="normal" fill="#000">40</text>
<line x1="204.50" y1="568.40" x2="205.70" y2="568.40" stroke="#444" stroke-width="1.0"/>
<text x="197.0" y="572.1" font-size="10" text-anchor="end" font-weight="normal" fill="#000">50</text>
<line x1="205.70" y1="568.00" x2="205.70" y2="733.40" stroke="#444" stroke-width="1.0"/>
<line x1="205.20" y1="732.90" x2="337.30" y2="732.90" stroke="#444" stroke-width="1.3"/>
<line x1="219.75" y1="732.90" x2="219.75" y2="734.40" stroke="#444" stroke-width="0.8"/>
<line x1="240.45" y1="732.90" x2="240.45" y2="734.40" stroke="#444" stroke-width="0.8"/>
<line x1="261.15" y1="732.90" x2="261.15" y2="734.40" stroke="#444" stroke-width="0.8"/>
<line x1="281.85" y1="732.90" x2="281.85" y2="734.40" stroke="#444" stroke-width="0.8"/>
<line x1="302.55" y1="732.90" x2="302.55" y2="734.40" stroke="#444" stroke-width="0.8"/>
<line x1="323.15" y1="732.90" x2="323.15" y2="734.40" stroke="#444" stroke-width="0.8"/>
<ellipse cx="215.44" cy="607.96" rx="1.55" ry="2.45" fill="#fff" stroke="#000" stroke-width="0.7"/>
<ellipse cx="223.60" cy="606.44" rx="1.55" ry="2.45" fill="#fff" stroke="#000" stroke-width="0.7"/>
<ellipse cx="219.80" cy="613.27" rx="1.55" ry="2.45" fill="#fff" stroke="#000" stroke-width="0.7"/>
<ellipse cx="217.34" cy="617.07" rx="1.55" ry="2.45" fill="#fff" stroke="#000" stroke-width="0.7"/>
<ellipse cx="222.46" cy="617.83" rx="1.55" ry="2.45" fill="#fff" stroke="#000" stroke-width="0.7"/>
<ellipse cx="224.93" cy="619.35" rx="1.55" ry="2.45" fill="#fff" stroke="#000" stroke-width="0.7"/>
<ellipse cx="217.34" cy="620.86" rx="1.55" ry="2.45" fill="#fff" stroke="#000" stroke-width="0.7"/>
<ellipse cx="219.80" cy="625.04" rx="1.55" ry="2.45" fill="#fff" stroke="#000" stroke-width="0.7"/>
<ellipse cx="222.08" cy="621.24" rx="1.55" ry="2.45" fill="#fff" stroke="#000" stroke-width="0.7"/>
<ellipse cx="240.49" cy="577.59" rx="1.55" ry="2.45" fill="#fff" stroke="#000" stroke-width="0.7"/>
<ellipse cx="240.49" cy="591.26" rx="1.55" ry="2.45" fill="#fff" stroke="#000" stroke-width="0.7"/>
<ellipse cx="234.42" cy="598.09" rx="1.55" ry="2.45" fill="#fff" stroke="#000" stroke-width="0.7"/>
<ellipse cx="239.16" cy="595.62" rx="1.55" ry="2.45" fill="#fff" stroke="#000" stroke-width="0.7"/>
<ellipse cx="243.91" cy="597.52" rx="1.55" ry="2.45" fill="#fff" stroke="#000" stroke-width="0.7"/>
<ellipse cx="236.32" cy="603.21" rx="1.55" ry="2.45" fill="#fff" stroke="#000" stroke-width="0.7"/>
<ellipse cx="240.49" cy="601.32" rx="1.55" ry="2.45" fill="#fff" stroke="#000" stroke-width="0.7"/>
<ellipse cx="244.48" cy="605.68" rx="1.55" ry="2.45" fill="#fff" stroke="#000" stroke-width="0.7"/>
<ellipse cx="240.49" cy="609.48" rx="1.55" ry="2.45" fill="#fff" stroke="#000" stroke-width="0.7"/>
<ellipse cx="260.99" cy="577.97" rx="1.55" ry="2.45" fill="#fff" stroke="#000" stroke-width="0.7"/>
<ellipse cx="257.19" cy="600.37" rx="1.55" ry="2.45" fill="#fff" stroke="#000" stroke-width="0.7"/>
<ellipse cx="265.35" cy="598.47" rx="1.55" ry="2.45" fill="#fff" stroke="#000" stroke-width="0.7"/>
<ellipse cx="260.99" cy="605.11" rx="1.55" ry="2.45" fill="#fff" stroke="#000" stroke-width="0.7"/>
<ellipse cx="256.24" cy="608.91" rx="1.55" ry="2.45" fill="#fff" stroke="#000" stroke-width="0.7"/>
<ellipse cx="265.73" cy="607.96" rx="1.55" ry="2.45" fill="#fff" stroke="#000" stroke-width="0.7"/>
<ellipse cx="260.04" cy="615.55" rx="1.55" ry="2.45" fill="#fff" stroke="#000" stroke-width="0.7"/>
<ellipse cx="262.89" cy="612.70" rx="1.55" ry="2.45" fill="#fff" stroke="#000" stroke-width="0.7"/>
<ellipse cx="281.86" cy="598.47" rx="1.55" ry="2.45" fill="#fff" stroke="#000" stroke-width="0.7"/>
<ellipse cx="279.97" cy="604.16" rx="1.55" ry="2.45" fill="#fff" stroke="#000" stroke-width="0.7"/>
<ellipse cx="277.12" cy="612.13" rx="1.55" ry="2.45" fill="#fff" stroke="#000" stroke-width="0.7"/>
<ellipse cx="282.81" cy="609.86" rx="1.55" ry="2.45" fill="#fff" stroke="#000" stroke-width="0.7"/>
<ellipse cx="286.61" cy="615.17" rx="1.55" ry="2.45" fill="#fff" stroke="#000" stroke-width="0.7"/>
<ellipse cx="279.97" cy="617.45" rx="1.55" ry="2.45" fill="#fff" stroke="#000" stroke-width="0.7"/>
<ellipse cx="283.76" cy="618.40" rx="1.55" ry="2.45" fill="#fff" stroke="#000" stroke-width="0.7"/>
<ellipse cx="281.86" cy="615.55" rx="1.55" ry="2.45" fill="#fff" stroke="#000" stroke-width="0.7"/>
<ellipse cx="300.46" cy="597.90" rx="1.55" ry="2.45" fill="#fff" stroke="#000" stroke-width="0.7"/>
<ellipse cx="304.26" cy="600.37" rx="1.55" ry="2.45" fill="#fff" stroke="#000" stroke-width="0.7"/>
<ellipse cx="298.95" cy="610.80" rx="1.55" ry="2.45" fill="#fff" stroke="#000" stroke-width="0.7"/>
<ellipse cx="303.31" cy="609.86" rx="1.55" ry="2.45" fill="#fff" stroke="#000" stroke-width="0.7"/>
<ellipse cx="305.97" cy="612.13" rx="1.55" ry="2.45" fill="#fff" stroke="#000" stroke-width="0.7"/>
<ellipse cx="301.41" cy="617.07" rx="1.55" ry="2.45" fill="#fff" stroke="#000" stroke-width="0.7"/>
<ellipse cx="303.69" cy="616.50" rx="1.55" ry="2.45" fill="#fff" stroke="#000" stroke-width="0.7"/>
<ellipse cx="325.14" cy="595.62" rx="1.55" ry="2.45" fill="#fff" stroke="#000" stroke-width="0.7"/>
<ellipse cx="321.15" cy="601.88" rx="1.55" ry="2.45" fill="#fff" stroke="#000" stroke-width="0.7"/>
<ellipse cx="318.87" cy="614.03" rx="1.55" ry="2.45" fill="#fff" stroke="#000" stroke-width="0.7"/>
<ellipse cx="322.67" cy="610.80" rx="1.55" ry="2.45" fill="#fff" stroke="#000" stroke-width="0.7"/>
<ellipse cx="327.98" cy="611.75" rx="1.55" ry="2.45" fill="#fff" stroke="#000" stroke-width="0.7"/>
<ellipse cx="321.15" cy="619.35" rx="1.55" ry="2.45" fill="#fff" stroke="#000" stroke-width="0.7"/>
<ellipse cx="324.57" cy="619.72" rx="1.55" ry="2.45" fill="#fff" stroke="#000" stroke-width="0.7"/>
<text x="219.8" y="562.8" font-size="12" text-anchor="middle" font-weight="bold" letter-spacing="0.0">***</text>
<line x1="274.80" y1="562.80" x2="328.90" y2="562.80" stroke="#000" stroke-width="0.9"/>
<text x="302.3" y="562.6" font-size="12" text-anchor="middle" font-weight="bold" letter-spacing="0.0">*</text>
<text x="179.0" y="611.2" font-size="9" text-anchor="middle" font-weight="normal" fill="#000" transform="rotate(-90 179.0 608.0)">AUC (10<tspan font-size="6" dy="-3">3</tspan><tspan dy="3"> mg/dL*min)</tspan></text>
<text x="330.9" y="541.9" font-size="18.5" text-anchor="start" font-weight="bold" fill="#000">(F)</text>
<polyline points="381.60,615.54 397.76,700.25 413.93,705.06 446.25,701.45 478.58,684.63 510.90,666.60" fill="none" stroke="#8a8a8a" stroke-width="1.8"/>
<polyline points="381.60,641.37 397.76,703.85 413.93,715.87 446.25,715.87 478.58,704.45 510.90,693.04" fill="none" stroke="#ff6a10" stroke-width="1.8"/>
<polyline points="381.60,646.18 397.76,709.86 413.93,714.67 446.25,714.67 478.58,703.25 510.90,691.84" fill="none" stroke="#008000" stroke-width="1.8"/>
<polyline points="381.60,625.15 397.76,708.06 413.93,712.57 446.25,714.07 478.58,701.75 510.90,690.64" fill="none" stroke="#0000cc" stroke-width="1.8"/>
<polyline points="381.60,630.86 397.76,705.66 413.93,714.67 446.25,722.48 478.58,714.67 510.90,701.75" fill="none" stroke="#ff0000" stroke-width="1.8"/>
<polyline points="381.60,616.74 397.76,705.36 413.93,704.75 446.25,706.56 478.58,688.23 510.90,667.39" fill="none" stroke="#000" stroke-width="1.8"/>
<line x1="381.60" y1="611.93" x2="381.60" y2="619.14" stroke="#8a8a8a" stroke-width="1.2"/>
<line x1="379.10" y1="611.93" x2="384.10" y2="611.93" stroke="#8a8a8a" stroke-width="1.6"/>
<line x1="379.10" y1="619.14" x2="384.10" y2="619.14" stroke="#8a8a8a" stroke-width="1.6"/>
<ellipse cx="381.60" cy="615.54" rx="2.2" ry="2.8" fill="none" stroke="#8a8a8a" stroke-width="1.1"/>
<line x1="397.76" y1="696.64" x2="397.76" y2="703.85" stroke="#8a8a8a" stroke-width="1.2"/>
<line x1="395.26" y1="696.64" x2="400.26" y2="696.64" stroke="#8a8a8a" stroke-width="1.6"/>
<line x1="395.26" y1="703.85" x2="400.26" y2="703.85" stroke="#8a8a8a" stroke-width="1.6"/>
<ellipse cx="397.76" cy="700.25" rx="2.2" ry="2.8" fill="none" stroke="#8a8a8a" stroke-width="1.1"/>
<line x1="413.93" y1="702.05" x2="413.93" y2="708.06" stroke="#8a8a8a" stroke-width="1.2"/>
<line x1="411.43" y1="702.05" x2="416.43" y2="702.05" stroke="#8a8a8a" stroke-width="1.6"/>
<line x1="411.43" y1="708.06" x2="416.43" y2="708.06" stroke="#8a8a8a" stroke-width="1.6"/>
<ellipse cx="413.93" cy="705.06" rx="2.2" ry="2.8" fill="none" stroke="#8a8a8a" stroke-width="1.1"/>
<line x1="446.25" y1="698.45" x2="446.25" y2="704.45" stroke="#8a8a8a" stroke-width="1.2"/>
<line x1="443.75" y1="698.45" x2="448.75" y2="698.45" stroke="#8a8a8a" stroke-width="1.6"/>
<line x1="443.75" y1="704.45" x2="448.75" y2="704.45" stroke="#8a8a8a" stroke-width="1.6"/>
<ellipse cx="446.25" cy="701.45" rx="2.2" ry="2.8" fill="none" stroke="#8a8a8a" stroke-width="1.1"/>
<line x1="478.58" y1="681.02" x2="478.58" y2="688.23" stroke="#8a8a8a" stroke-width="1.2"/>
<line x1="476.08" y1="681.02" x2="481.08" y2="681.02" stroke="#8a8a8a" stroke-width="1.6"/>
<line x1="476.08" y1="688.23" x2="481.08" y2="688.23" stroke="#8a8a8a" stroke-width="1.6"/>
<ellipse cx="478.58" cy="684.63" rx="2.2" ry="2.8" fill="none" stroke="#8a8a8a" stroke-width="1.1"/>
<line x1="510.90" y1="663.00" x2="510.90" y2="670.21" stroke="#8a8a8a" stroke-width="1.2"/>
<line x1="508.40" y1="663.00" x2="513.40" y2="663.00" stroke="#8a8a8a" stroke-width="1.6"/>
<line x1="508.40" y1="670.21" x2="513.40" y2="670.21" stroke="#8a8a8a" stroke-width="1.6"/>
<ellipse cx="510.90" cy="666.60" rx="2.2" ry="2.8" fill="none" stroke="#8a8a8a" stroke-width="1.1"/>
<line x1="381.60" y1="637.77" x2="381.60" y2="644.98" stroke="#ff6a10" stroke-width="1.2"/>
<line x1="379.10" y1="637.77" x2="384.10" y2="637.77" stroke="#ff6a10" stroke-width="1.6"/>
<line x1="379.10" y1="644.98" x2="384.10" y2="644.98" stroke="#ff6a10" stroke-width="1.6"/>
<ellipse cx="381.60" cy="641.37" rx="2.2" ry="2.8" fill="none" stroke="#ff6a10" stroke-width="1.1"/>
<line x1="397.76" y1="694.84" x2="397.76" y2="712.87" stroke="#ff6a10" stroke-width="1.2"/>
<line x1="395.26" y1="694.84" x2="400.26" y2="694.84" stroke="#ff6a10" stroke-width="1.6"/>
<line x1="395.26" y1="712.87" x2="400.26" y2="712.87" stroke="#ff6a10" stroke-width="1.6"/>
<ellipse cx="397.76" cy="703.85" rx="2.2" ry="2.8" fill="none" stroke="#ff6a10" stroke-width="1.1"/>
<line x1="413.93" y1="711.06" x2="413.93" y2="720.68" stroke="#ff6a10" stroke-width="1.2"/>
<line x1="411.43" y1="711.06" x2="416.43" y2="711.06" stroke="#ff6a10" stroke-width="1.6"/>
<line x1="411.43" y1="720.68" x2="416.43" y2="720.68" stroke="#ff6a10" stroke-width="1.6"/>
<ellipse cx="413.93" cy="715.87" rx="2.2" ry="2.8" fill="none" stroke="#ff6a10" stroke-width="1.1"/>
<line x1="446.25" y1="712.26" x2="446.25" y2="719.47" stroke="#ff6a10" stroke-width="1.2"/>
<line x1="443.75" y1="712.26" x2="448.75" y2="712.26" stroke="#ff6a10" stroke-width="1.6"/>
<line x1="443.75" y1="719.47" x2="448.75" y2="719.47" stroke="#ff6a10" stroke-width="1.6"/>
<ellipse cx="446.25" cy="715.87" rx="2.2" ry="2.8" fill="none" stroke="#ff6a10" stroke-width="1.1"/>
<line x1="478.58" y1="699.65" x2="478.58" y2="709.26" stroke="#ff6a10" stroke-width="1.2"/>
<line x1="476.08" y1="699.65" x2="481.08" y2="699.65" stroke="#ff6a10" stroke-width="1.6"/>
<line x1="476.08" y1="709.26" x2="481.08" y2="709.26" stroke="#ff6a10" stroke-width="1.6"/>
<ellipse cx="478.58" cy="704.45" rx="2.2" ry="2.8" fill="none" stroke="#ff6a10" stroke-width="1.1"/>
<line x1="510.90" y1="688.23" x2="510.90" y2="697.85" stroke="#ff6a10" stroke-width="1.2"/>
<line x1="508.40" y1="688.23" x2="513.40" y2="688.23" stroke="#ff6a10" stroke-width="1.6"/>
<line x1="508.40" y1="697.85" x2="513.40" y2="697.85" stroke="#ff6a10" stroke-width="1.6"/>
<ellipse cx="510.90" cy="693.04" rx="2.2" ry="2.8" fill="none" stroke="#ff6a10" stroke-width="1.1"/>
<line x1="381.60" y1="643.17" x2="381.60" y2="649.18" stroke="#008000" stroke-width="1.2"/>
<line x1="379.10" y1="643.17" x2="384.10" y2="643.17" stroke="#008000" stroke-width="1.6"/>
<line x1="379.10" y1="649.18" x2="384.10" y2="649.18" stroke="#008000" stroke-width="1.6"/>
<ellipse cx="381.60" cy="646.18" rx="2.2" ry="2.8" fill="none" stroke="#008000" stroke-width="1.1"/>
<line x1="397.76" y1="706.26" x2="397.76" y2="713.47" stroke="#008000" stroke-width="1.2"/>
<line x1="395.26" y1="706.26" x2="400.26" y2="706.26" stroke="#008000" stroke-width="1.6"/>
<line x1="395.26" y1="713.47" x2="400.26" y2="713.47" stroke="#008000" stroke-width="1.6"/>
<ellipse cx="397.76" cy="709.86" rx="2.2" ry="2.8" fill="none" stroke="#008000" stroke-width="1.1"/>
<line x1="413.93" y1="711.66" x2="413.93" y2="717.67" stroke="#008000" stroke-width="1.2"/>
<line x1="411.43" y1="711.66" x2="416.43" y2="711.66" stroke="#008000" stroke-width="1.6"/>
<line x1="411.43" y1="717.67" x2="416.43" y2="717.67" stroke="#008000" stroke-width="1.6"/>
<ellipse cx="413.93" cy="714.67" rx="2.2" ry="2.8" fill="none" stroke="#008000" stroke-width="1.1"/>
<line x1="446.25" y1="711.66" x2="446.25" y2="717.67" stroke="#008000" stroke-width="1.2"/>
<line x1="443.75" y1="711.66" x2="448.75" y2="711.66" stroke="#008000" stroke-width="1.6"/>
<line x1="443.75" y1="717.67" x2="448.75" y2="717.67" stroke="#008000" stroke-width="1.6"/>
<ellipse cx="446.25" cy="714.67" rx="2.2" ry="2.8" fill="none" stroke="#008000" stroke-width="1.1"/>
<line x1="478.58" y1="699.65" x2="478.58" y2="706.86" stroke="#008000" stroke-width="1.2"/>
<line x1="476.08" y1="699.65" x2="481.08" y2="699.65" stroke="#008000" stroke-width="1.6"/>
<line x1="476.08" y1="706.86" x2="481.08" y2="706.86" stroke="#008000" stroke-width="1.6"/>
<ellipse cx="478.58" cy="703.25" rx="2.2" ry="2.8" fill="none" stroke="#008000" stroke-width="1.1"/>
<line x1="510.90" y1="687.03" x2="510.90" y2="696.64" stroke="#008000" stroke-width="1.2"/>
<line x1="508.40" y1="687.03" x2="513.40" y2="687.03" stroke="#008000" stroke-width="1.6"/>
<line x1="508.40" y1="696.64" x2="513.40" y2="696.64" stroke="#008000" stroke-width="1.6"/>
<ellipse cx="510.90" cy="691.84" rx="2.2" ry="2.8" fill="none" stroke="#008000" stroke-width="1.1"/>
<line x1="381.60" y1="620.94" x2="381.60" y2="629.35" stroke="#0000cc" stroke-width="1.2"/>
<line x1="379.10" y1="620.94" x2="384.10" y2="620.94" stroke="#0000cc" stroke-width="1.6"/>
<line x1="379.10" y1="629.35" x2="384.10" y2="629.35" stroke="#0000cc" stroke-width="1.6"/>
<ellipse cx="381.60" cy="625.15" rx="2.2" ry="2.8" fill="none" stroke="#0000cc" stroke-width="1.1"/>
<line x1="397.76" y1="703.25" x2="397.76" y2="712.87" stroke="#0000cc" stroke-width="1.2"/>
<line x1="395.26" y1="703.25" x2="400.26" y2="703.25" stroke="#0000cc" stroke-width="1.6"/>
<line x1="395.26" y1="712.87" x2="400.26" y2="712.87" stroke="#0000cc" stroke-width="1.6"/>
<ellipse cx="397.76" cy="708.06" rx="2.2" ry="2.8" fill="none" stroke="#0000cc" stroke-width="1.1"/>
<line x1="413.93" y1="707.76" x2="413.93" y2="717.37" stroke="#0000cc" stroke-width="1.2"/>
<line x1="411.43" y1="707.76" x2="416.43" y2="707.76" stroke="#0000cc" stroke-width="1.6"/>
<line x1="411.43" y1="717.37" x2="416.43" y2="717.37" stroke="#0000cc" stroke-width="1.6"/>
<ellipse cx="413.93" cy="712.57" rx="2.2" ry="2.8" fill="none" stroke="#0000cc" stroke-width="1.1"/>
<line x1="446.25" y1="710.46" x2="446.25" y2="717.67" stroke="#0000cc" stroke-width="1.2"/>
<line x1="443.75" y1="710.46" x2="448.75" y2="710.46" stroke="#0000cc" stroke-width="1.6"/>
<line x1="443.75" y1="717.67" x2="448.75" y2="717.67" stroke="#0000cc" stroke-width="1.6"/>
<ellipse cx="446.25" cy="714.07" rx="2.2" ry="2.8" fill="none" stroke="#0000cc" stroke-width="1.1"/>
<line x1="478.58" y1="696.94" x2="478.58" y2="706.56" stroke="#0000cc" stroke-width="1.2"/>
<line x1="476.08" y1="696.94" x2="481.08" y2="696.94" stroke="#0000cc" stroke-width="1.6"/>
<line x1="476.08" y1="706.56" x2="481.08" y2="706.56" stroke="#0000cc" stroke-width="1.6"/>
<ellipse cx="478.58" cy="701.75" rx="2.2" ry="2.8" fill="none" stroke="#0000cc" stroke-width="1.1"/>
<line x1="510.90" y1="682.22" x2="510.90" y2="699.05" stroke="#0000cc" stroke-width="1.2"/>
<line x1="508.40" y1="682.22" x2="513.40" y2="682.22" stroke="#0000cc" stroke-width="1.6"/>
<line x1="508.40" y1="699.05" x2="513.40" y2="699.05" stroke="#0000cc" stroke-width="1.6"/>
<ellipse cx="510.90" cy="690.64" rx="2.2" ry="2.8" fill="none" stroke="#0000cc" stroke-width="1.1"/>
<line x1="381.60" y1="626.05" x2="381.60" y2="635.66" stroke="#ff0000" stroke-width="1.2"/>
<line x1="379.10" y1="626.05" x2="384.10" y2="626.05" stroke="#ff0000" stroke-width="1.6"/>
<line x1="379.10" y1="635.66" x2="384.10" y2="635.66" stroke="#ff0000" stroke-width="1.6"/>
<ellipse cx="381.60" cy="630.86" rx="2.2" ry="2.8" fill="none" stroke="#ff0000" stroke-width="1.1"/>
<line x1="397.76" y1="702.05" x2="397.76" y2="709.26" stroke="#ff0000" stroke-width="1.2"/>
<line x1="395.26" y1="702.05" x2="400.26" y2="702.05" stroke="#ff0000" stroke-width="1.6"/>
<line x1="395.26" y1="709.26" x2="400.26" y2="709.26" stroke="#ff0000" stroke-width="1.6"/>
<ellipse cx="397.76" cy="705.66" rx="2.2" ry="2.8" fill="none" stroke="#ff0000" stroke-width="1.1"/>
<line x1="413.93" y1="711.66" x2="413.93" y2="717.67" stroke="#ff0000" stroke-width="1.2"/>
<line x1="411.43" y1="711.66" x2="416.43" y2="711.66" stroke="#ff0000" stroke-width="1.6"/>
<line x1="411.43" y1="717.67" x2="416.43" y2="717.67" stroke="#ff0000" stroke-width="1.6"/>
<ellipse cx="413.93" cy="714.67" rx="2.2" ry="2.8" fill="none" stroke="#ff0000" stroke-width="1.1"/>
<line x1="446.25" y1="720.08" x2="446.25" y2="724.88" stroke="#ff0000" stroke-width="1.2"/>
<line x1="443.75" y1="720.08" x2="448.75" y2="720.08" stroke="#ff0000" stroke-width="1.6"/>
<line x1="443.75" y1="724.88" x2="448.75" y2="724.88" stroke="#ff0000" stroke-width="1.6"/>
<ellipse cx="446.25" cy="722.48" rx="2.2" ry="2.8" fill="none" stroke="#ff0000" stroke-width="1.1"/>
<line x1="478.58" y1="711.06" x2="478.58" y2="718.27" stroke="#ff0000" stroke-width="1.2"/>
<line x1="476.08" y1="711.06" x2="481.08" y2="711.06" stroke="#ff0000" stroke-width="1.6"/>
<line x1="476.08" y1="718.27" x2="481.08" y2="718.27" stroke="#ff0000" stroke-width="1.6"/>
<ellipse cx="478.58" cy="714.67" rx="2.2" ry="2.8" fill="none" stroke="#ff0000" stroke-width="1.1"/>
<line x1="510.90" y1="698.15" x2="510.90" y2="705.36" stroke="#ff0000" stroke-width="1.2"/>
<line x1="508.40" y1="698.15" x2="513.40" y2="698.15" stroke="#ff0000" stroke-width="1.6"/>
<line x1="508.40" y1="705.36" x2="513.40" y2="705.36" stroke="#ff0000" stroke-width="1.6"/>
<ellipse cx="510.90" cy="701.75" rx="2.2" ry="2.8" fill="none" stroke="#ff0000" stroke-width="1.1"/>
<line x1="381.60" y1="612.53" x2="381.60" y2="620.94" stroke="#000" stroke-width="1.2"/>
<line x1="379.10" y1="612.53" x2="384.10" y2="612.53" stroke="#000" stroke-width="1.6"/>
<line x1="379.10" y1="620.94" x2="384.10" y2="620.94" stroke="#000" stroke-width="1.6"/>
<ellipse cx="381.60" cy="616.74" rx="2.2" ry="2.8" fill="none" stroke="#000" stroke-width="1.1"/>
<line x1="397.76" y1="702.35" x2="397.76" y2="708.36" stroke="#000" stroke-width="1.2"/>
<line x1="395.26" y1="702.35" x2="400.26" y2="702.35" stroke="#000" stroke-width="1.6"/>
<line x1="395.26" y1="708.36" x2="400.26" y2="708.36" stroke="#000" stroke-width="1.6"/>
<ellipse cx="397.76" cy="705.36" rx="2.2" ry="2.8" fill="none" stroke="#000" stroke-width="1.1"/>
<line x1="413.93" y1="702.35" x2="413.93" y2="707.16" stroke="#000" stroke-width="1.2"/>
<line x1="411.43" y1="702.35" x2="416.43" y2="702.35" stroke="#000" stroke-width="1.6"/>
<line x1="411.43" y1="707.16" x2="416.43" y2="707.16" stroke="#000" stroke-width="1.6"/>
<ellipse cx="413.93" cy="704.75" rx="2.2" ry="2.8" fill="none" stroke="#000" stroke-width="1.1"/>
<line x1="446.25" y1="704.15" x2="446.25" y2="708.96" stroke="#000" stroke-width="1.2"/>
<line x1="443.75" y1="704.15" x2="448.75" y2="704.15" stroke="#000" stroke-width="1.6"/>
<line x1="443.75" y1="708.96" x2="448.75" y2="708.96" stroke="#000" stroke-width="1.6"/>
<ellipse cx="446.25" cy="706.56" rx="2.2" ry="2.8" fill="none" stroke="#000" stroke-width="1.1"/>
<line x1="478.58" y1="684.63" x2="478.58" y2="691.84" stroke="#000" stroke-width="1.2"/>
<line x1="476.08" y1="684.63" x2="481.08" y2="684.63" stroke="#000" stroke-width="1.6"/>
<line x1="476.08" y1="691.84" x2="481.08" y2="691.84" stroke="#000" stroke-width="1.6"/>
<ellipse cx="478.58" cy="688.23" rx="2.2" ry="2.8" fill="none" stroke="#000" stroke-width="1.1"/>
<line x1="510.90" y1="664.98" x2="510.90" y2="669.79" stroke="#000" stroke-width="1.2"/>
<line x1="508.40" y1="664.98" x2="513.40" y2="664.98" stroke="#000" stroke-width="1.6"/>
<line x1="508.40" y1="669.79" x2="513.40" y2="669.79" stroke="#000" stroke-width="1.6"/>
<ellipse cx="510.90" cy="667.39" rx="2.2" ry="2.8" fill="none" stroke="#000" stroke-width="1.1"/>
<line x1="381.60" y1="588.00" x2="381.60" y2="739.30" stroke="#666" stroke-width="1.3"/>
<line x1="381.00" y1="738.70" x2="511.50" y2="738.70" stroke="#000" stroke-width="1.3"/>
<line x1="377.60" y1="738.70" x2="381.60" y2="738.70" stroke="#222" stroke-width="1.3"/>
<text x="375.3" y="742.4" font-size="10.2" text-anchor="end" font-weight="normal" fill="#000">0</text>
<line x1="377.60" y1="708.66" x2="381.60" y2="708.66" stroke="#222" stroke-width="1.3"/>
<text x="375.3" y="712.3" font-size="10.2" text-anchor="end" font-weight="normal" fill="#000">50</text>
<line x1="377.60" y1="678.62" x2="381.60" y2="678.62" stroke="#222" stroke-width="1.3"/>
<text x="375.3" y="682.3" font-size="10.2" text-anchor="end" font-weight="normal" fill="#000">100</text>
<line x1="377.60" y1="648.58" x2="381.60" y2="648.58" stroke="#222" stroke-width="1.3"/>
<text x="375.3" y="652.3" font-size="10.2" text-anchor="end" font-weight="normal" fill="#000">150</text>
<line x1="377.60" y1="618.54" x2="381.60" y2="618.54" stroke="#222" stroke-width="1.3"/>
<text x="375.3" y="622.2" font-size="10.2" text-anchor="end" font-weight="normal" fill="#000">200</text>
<line x1="377.60" y1="588.50" x2="381.60" y2="588.50" stroke="#222" stroke-width="1.3"/>
<text x="375.3" y="592.2" font-size="10.2" text-anchor="end" font-weight="normal" fill="#000">250</text>
<line x1="381.60" y1="738.70" x2="381.60" y2="742.20" stroke="#000" stroke-width="1.2"/>
<text x="381.6" y="756.4" font-size="10.2" text-anchor="middle" font-weight="normal" fill="#000">0</text>
<line x1="413.93" y1="738.70" x2="413.93" y2="742.20" stroke="#000" stroke-width="1.2"/>
<text x="413.9" y="756.4" font-size="10.2" text-anchor="middle" font-weight="normal" fill="#000">30</text>
<line x1="446.25" y1="738.70" x2="446.25" y2="742.20" stroke="#000" stroke-width="1.2"/>
<text x="446.2" y="756.4" font-size="10.2" text-anchor="middle" font-weight="normal" fill="#000">60</text>
<line x1="478.58" y1="738.70" x2="478.58" y2="742.20" stroke="#000" stroke-width="1.2"/>
<text x="478.6" y="756.4" font-size="10.2" text-anchor="middle" font-weight="normal" fill="#000">90</text>
<line x1="510.90" y1="738.70" x2="510.90" y2="742.20" stroke="#000" stroke-width="1.2"/>
<text x="510.9" y="756.4" font-size="10.2" text-anchor="middle" font-weight="normal" fill="#000">120</text>
<text x="447.6" y="783.1" font-size="11.4" text-anchor="middle" font-weight="normal" fill="#000">Time (min) after insulin i.p.</text>
<text x="345.6" y="666.8" font-size="10.2" text-anchor="middle" font-weight="normal" fill="#000" transform="rotate(-90 345.6 663.1)">Blood glucose (mg/dL)</text>
<line x1="392.60" y1="552.00" x2="402.60" y2="552.00" stroke="#ff0000" stroke-width="1.2"/>
<line x1="397.60" y1="548.20" x2="397.60" y2="555.80" stroke="#ff0000" stroke-width="0.8"/>
<ellipse cx="397.60" cy="552.00" rx="2.1" ry="3.2" fill="none" stroke="#ff0000" stroke-width="1.0"/>
<text x="406.9" y="552.2" font-size="10" text-anchor="start" font-weight="normal" fill="#000">NC</text>
<line x1="392.60" y1="573.30" x2="402.60" y2="573.30" stroke="#000" stroke-width="1.2"/>
<line x1="397.60" y1="569.50" x2="397.60" y2="577.10" stroke="#000" stroke-width="0.8"/>
<ellipse cx="397.60" cy="573.30" rx="2.1" ry="3.2" fill="none" stroke="#000" stroke-width="1.0"/>
<text x="406.9" y="572.4" font-size="10" text-anchor="start" font-weight="normal" fill="#000">HFD</text>
<line x1="392.60" y1="594.90" x2="402.60" y2="594.90" stroke="#8a8a8a" stroke-width="1.2"/>
<line x1="397.60" y1="591.10" x2="397.60" y2="598.70" stroke="#8a8a8a" stroke-width="0.8"/>
<path d="M397.60 591.40 L400.80 597.20 L394.40 597.20 Z" fill="#8a8a8a" fill-opacity="0.5" stroke="#8a8a8a" stroke-width="1.0"/>
<text x="406.9" y="595.6" font-size="10" text-anchor="start" font-weight="normal" fill="#000">HFD_Cell</text>
<line x1="459.70" y1="552.00" x2="469.70" y2="552.00" stroke="#0000cc" stroke-width="1.2"/>
<line x1="464.70" y1="548.20" x2="464.70" y2="555.80" stroke="#0000cc" stroke-width="0.8"/>
<path d="M464.70 555.50 L467.90 549.70 L461.50 549.70 Z" fill="none" stroke="#0000cc" stroke-width="1.0"/>
<text x="472.6" y="552.2" font-size="10" text-anchor="start" font-weight="normal" fill="#000">HFD_Ace</text>
<line x1="459.70" y1="573.30" x2="469.70" y2="573.30" stroke="#ff6a10" stroke-width="1.2"/>
<line x1="464.70" y1="569.50" x2="464.70" y2="577.10" stroke="#ff6a10" stroke-width="0.8"/>
<path d="M464.70 569.80 L467.30 573.30 L464.70 576.80 L462.10 573.30 Z" fill="none" stroke="#ff6a10" stroke-width="1.0"/>
<text x="472.6" y="574.4" font-size="10" text-anchor="start" font-weight="normal" fill="#000">HFD_Pro</text>
<line x1="459.70" y1="594.90" x2="469.70" y2="594.90" stroke="#008000" stroke-width="1.2"/>
<line x1="464.70" y1="591.10" x2="464.70" y2="598.70" stroke="#008000" stroke-width="0.8"/>
<ellipse cx="464.70" cy="594.90" rx="2.1" ry="3.2" fill="none" stroke="#008000" stroke-width="1.0"/>
<text x="472.6" y="595.6" font-size="10" text-anchor="start" font-weight="normal" fill="#000">HFD_But</text>
<text x="487.6" y="692.6" font-size="7.5" text-anchor="middle" font-weight="normal" fill="#000">&#167;&#167;&#167;</text>
<text x="487.6" y="700.1" font-size="7.5" text-anchor="middle" font-weight="normal" fill="#000">&#8224;&#8224;&#8224;</text>
<text x="487.6" y="710.7" font-size="9" text-anchor="middle" font-weight="bold" letter-spacing="0.0">***</text>
<text x="520.8" y="681.0" font-size="7.5" text-anchor="middle" font-weight="normal" fill="#000">&#167;&#167;&#167;</text>
<text x="520.8" y="688.5" font-size="7.5" text-anchor="middle" font-weight="normal" fill="#000">&#8224;&#8224;&#8224;</text>
<text x="520.8" y="697.4" font-size="9" text-anchor="middle" font-weight="bold" letter-spacing="0.0">***</text>
<text x="485.5" y="725.4" font-size="7.5" text-anchor="middle" font-weight="normal" fill="#000">###</text>
<text x="517.0" y="713.4" font-size="7.5" text-anchor="middle" font-weight="normal" fill="#000">###</text>
<text x="447.2" y="732.0" font-size="7.5" text-anchor="middle" font-weight="normal" fill="#000">#</text>
<line x1="567.80" y1="670.80" x2="567.80" y2="669.15" stroke="#000" stroke-width="0.9"/>
<line x1="565.30" y1="669.15" x2="570.30" y2="669.15" stroke="#000" stroke-width="0.9"/>
<rect x="561.10" y="670.80" width="13.40" height="64.90" fill="#ff0000"/>
<line x1="588.60" y1="631.20" x2="588.60" y2="627.90" stroke="#000" stroke-width="0.9"/>
<line x1="586.10" y1="627.90" x2="591.10" y2="627.90" stroke="#000" stroke-width="0.9"/>
<rect x="581.90" y="631.20" width="13.40" height="104.50" fill="#000000"/>
<line x1="609.20" y1="624.60" x2="609.20" y2="620.75" stroke="#000" stroke-width="0.9"/>
<line x1="606.70" y1="620.75" x2="611.70" y2="620.75" stroke="#000" stroke-width="0.9"/>
<rect x="602.50" y="624.60" width="13.40" height="111.10" fill="#808080"/>
<line x1="629.90" y1="655.40" x2="629.90" y2="651.00" stroke="#000" stroke-width="0.9"/>
<line x1="627.40" y1="651.00" x2="632.40" y2="651.00" stroke="#000" stroke-width="0.9"/>
<rect x="623.20" y="655.40" width="13.40" height="80.30" fill="#0000ff"/>
<line x1="650.30" y1="655.40" x2="650.30" y2="651.00" stroke="#000" stroke-width="0.9"/>
<line x1="647.80" y1="651.00" x2="652.80" y2="651.00" stroke="#000" stroke-width="0.9"/>
<rect x="643.60" y="655.40" width="13.40" height="80.30" fill="#ff8000"/>
<line x1="670.70" y1="656.50" x2="670.70" y2="654.30" stroke="#000" stroke-width="0.9"/>
<line x1="668.20" y1="654.30" x2="673.20" y2="654.30" stroke="#000" stroke-width="0.9"/>
<rect x="664.00" y="656.50" width="13.40" height="79.20" fill="#00bf00"/>
<line x1="552.70" y1="735.70" x2="553.90" y2="735.70" stroke="#444" stroke-width="1.0"/>
<text x="548.7" y="739.4" font-size="10" text-anchor="end" font-weight="normal" fill="#000">0</text>
<line x1="552.70" y1="680.70" x2="553.90" y2="680.70" stroke="#444" stroke-width="1.0"/>
<text x="548.7" y="684.4" font-size="10" text-anchor="end" font-weight="normal" fill="#000">5</text>
<line x1="552.70" y1="625.70" x2="553.90" y2="625.70" stroke="#444" stroke-width="1.0"/>
<text x="548.7" y="629.4" font-size="10" text-anchor="end" font-weight="normal" fill="#000">10</text>
<line x1="552.70" y1="570.70" x2="553.90" y2="570.70" stroke="#444" stroke-width="1.0"/>
<text x="548.7" y="574.4" font-size="10" text-anchor="end" font-weight="normal" fill="#000">15</text>
<line x1="553.90" y1="570.00" x2="553.90" y2="736.20" stroke="#444" stroke-width="1.0"/>
<line x1="553.40" y1="735.70" x2="685.00" y2="735.70" stroke="#444" stroke-width="1.3"/>
<line x1="567.80" y1="735.70" x2="567.80" y2="737.20" stroke="#444" stroke-width="0.8"/>
<line x1="588.60" y1="735.70" x2="588.60" y2="737.20" stroke="#444" stroke-width="0.8"/>
<line x1="609.20" y1="735.70" x2="609.20" y2="737.20" stroke="#444" stroke-width="0.8"/>
<line x1="629.90" y1="735.70" x2="629.90" y2="737.20" stroke="#444" stroke-width="0.8"/>
<line x1="650.30" y1="735.70" x2="650.30" y2="737.20" stroke="#444" stroke-width="0.8"/>
<line x1="670.70" y1="735.70" x2="670.70" y2="737.20" stroke="#444" stroke-width="0.8"/>
<ellipse cx="563.54" cy="666.43" rx="1.55" ry="2.45" fill="#fff" stroke="#000" stroke-width="0.7"/>
<ellipse cx="568.29" cy="667.38" rx="1.55" ry="2.45" fill="#fff" stroke="#000" stroke-width="0.7"/>
<ellipse cx="572.08" cy="666.81" rx="1.55" ry="2.45" fill="#fff" stroke="#000" stroke-width="0.7"/>
<ellipse cx="565.44" cy="673.07" rx="1.55" ry="2.45" fill="#fff" stroke="#000" stroke-width="0.7"/>
<ellipse cx="568.66" cy="672.12" rx="1.55" ry="2.45" fill="#fff" stroke="#000" stroke-width="0.7"/>
<ellipse cx="567.34" cy="675.54" rx="1.55" ry="2.45" fill="#fff" stroke="#000" stroke-width="0.7"/>
<ellipse cx="570.18" cy="673.64" rx="1.55" ry="2.45" fill="#fff" stroke="#000" stroke-width="0.7"/>
<ellipse cx="586.32" cy="618.03" rx="1.55" ry="2.45" fill="#fff" stroke="#000" stroke-width="0.7"/>
<ellipse cx="590.11" cy="621.83" rx="1.55" ry="2.45" fill="#fff" stroke="#000" stroke-width="0.7"/>
<ellipse cx="592.96" cy="620.88" rx="1.55" ry="2.45" fill="#fff" stroke="#000" stroke-width="0.7"/>
<ellipse cx="584.42" cy="628.47" rx="1.55" ry="2.45" fill="#fff" stroke="#000" stroke-width="0.7"/>
<ellipse cx="587.26" cy="629.42" rx="1.55" ry="2.45" fill="#fff" stroke="#000" stroke-width="0.7"/>
<ellipse cx="591.06" cy="628.09" rx="1.55" ry="2.45" fill="#fff" stroke="#000" stroke-width="0.7"/>
<ellipse cx="592.96" cy="636.44" rx="1.55" ry="2.45" fill="#fff" stroke="#000" stroke-width="0.7"/>
<ellipse cx="590.11" cy="641.37" rx="1.55" ry="2.45" fill="#fff" stroke="#000" stroke-width="0.7"/>
<ellipse cx="586.32" cy="647.45" rx="1.55" ry="2.45" fill="#fff" stroke="#000" stroke-width="0.7"/>
<ellipse cx="607.19" cy="606.64" rx="1.55" ry="2.45" fill="#fff" stroke="#000" stroke-width="0.7"/>
<ellipse cx="612.89" cy="612.34" rx="1.55" ry="2.45" fill="#fff" stroke="#000" stroke-width="0.7"/>
<ellipse cx="607.19" cy="620.88" rx="1.55" ry="2.45" fill="#fff" stroke="#000" stroke-width="0.7"/>
<ellipse cx="610.99" cy="618.60" rx="1.55" ry="2.45" fill="#fff" stroke="#000" stroke-width="0.7"/>
<ellipse cx="607.19" cy="630.37" rx="1.55" ry="2.45" fill="#fff" stroke="#000" stroke-width="0.7"/>
<ellipse cx="610.99" cy="631.32" rx="1.55" ry="2.45" fill="#fff" stroke="#000" stroke-width="0.7"/>
<ellipse cx="610.99" cy="639.86" rx="1.55" ry="2.45" fill="#fff" stroke="#000" stroke-width="0.7"/>
<ellipse cx="607.19" cy="643.08" rx="1.55" ry="2.45" fill="#fff" stroke="#000" stroke-width="0.7"/>
<ellipse cx="625.60" cy="644.60" rx="1.55" ry="2.45" fill="#fff" stroke="#000" stroke-width="0.7"/>
<ellipse cx="629.59" cy="642.13" rx="1.55" ry="2.45" fill="#fff" stroke="#000" stroke-width="0.7"/>
<ellipse cx="629.97" cy="650.29" rx="1.55" ry="2.45" fill="#fff" stroke="#000" stroke-width="0.7"/>
<ellipse cx="633.76" cy="649.35" rx="1.55" ry="2.45" fill="#fff" stroke="#000" stroke-width="0.7"/>
<ellipse cx="627.69" cy="658.83" rx="1.55" ry="2.45" fill="#fff" stroke="#000" stroke-width="0.7"/>
<ellipse cx="633.76" cy="660.73" rx="1.55" ry="2.45" fill="#fff" stroke="#000" stroke-width="0.7"/>
<ellipse cx="631.49" cy="667.38" rx="1.55" ry="2.45" fill="#fff" stroke="#000" stroke-width="0.7"/>
<ellipse cx="627.69" cy="673.45" rx="1.55" ry="2.45" fill="#fff" stroke="#000" stroke-width="0.7"/>
<ellipse cx="646.10" cy="641.75" rx="1.55" ry="2.45" fill="#fff" stroke="#000" stroke-width="0.7"/>
<ellipse cx="650.27" cy="638.91" rx="1.55" ry="2.45" fill="#fff" stroke="#000" stroke-width="0.7"/>
<ellipse cx="650.46" cy="646.50" rx="1.55" ry="2.45" fill="#fff" stroke="#000" stroke-width="0.7"/>
<ellipse cx="654.07" cy="645.55" rx="1.55" ry="2.45" fill="#fff" stroke="#000" stroke-width="0.7"/>
<ellipse cx="649.89" cy="663.58" rx="1.55" ry="2.45" fill="#fff" stroke="#000" stroke-width="0.7"/>
<ellipse cx="646.10" cy="667.75" rx="1.55" ry="2.45" fill="#fff" stroke="#000" stroke-width="0.7"/>
<ellipse cx="654.07" cy="667.38" rx="1.55" ry="2.45" fill="#fff" stroke="#000" stroke-width="0.7"/>
<ellipse cx="649.89" cy="674.97" rx="1.55" ry="2.45" fill="#fff" stroke="#000" stroke-width="0.7"/>
<ellipse cx="670.39" cy="650.29" rx="1.55" ry="2.45" fill="#fff" stroke="#000" stroke-width="0.7"/>
<ellipse cx="666.03" cy="655.04" rx="1.55" ry="2.45" fill="#fff" stroke="#000" stroke-width="0.7"/>
<ellipse cx="668.87" cy="656.56" rx="1.55" ry="2.45" fill="#fff" stroke="#000" stroke-width="0.7"/>
<ellipse cx="672.67" cy="655.99" rx="1.55" ry="2.45" fill="#fff" stroke="#000" stroke-width="0.7"/>
<ellipse cx="675.52" cy="655.04" rx="1.55" ry="2.45" fill="#fff" stroke="#000" stroke-width="0.7"/>
<ellipse cx="671.15" cy="660.73" rx="1.55" ry="2.45" fill="#fff" stroke="#000" stroke-width="0.7"/>
<ellipse cx="672.67" cy="661.68" rx="1.55" ry="2.45" fill="#fff" stroke="#000" stroke-width="0.7"/>
<text x="567.5" y="583.0" font-size="12" text-anchor="middle" font-weight="bold" letter-spacing="0.0">***</text>
<line x1="618.60" y1="587.60" x2="676.10" y2="587.60" stroke="#000" stroke-width="0.9"/>
<text x="647.5" y="583.0" font-size="12" text-anchor="middle" font-weight="bold" letter-spacing="0.0">***</text>
<text x="529.5" y="614.8" font-size="9" text-anchor="middle" font-weight="normal" fill="#000" transform="rotate(-90 529.5 611.6)">AUC (10<tspan font-size="6" dy="-3">3</tspan><tspan dy="3"> mg/dL*min)</tspan></text>
<text x="26.6" y="809.0" font-size="18.5" text-anchor="start" font-weight="bold" fill="#000">(G)</text>
<line x1="136.75" y1="866.81" x2="136.75" y2="860.62" stroke="#000" stroke-width="1.0"/>
<line x1="133.75" y1="860.62" x2="139.75" y2="860.62" stroke="#000" stroke-width="1.0"/>
<rect x="127.00" y="866.81" width="19.50" height="77.99" fill="#ff0000"/>
<line x1="166.15" y1="877.33" x2="166.15" y2="872.38" stroke="#000" stroke-width="1.0"/>
<line x1="163.15" y1="872.38" x2="169.15" y2="872.38" stroke="#000" stroke-width="1.0"/>
<rect x="156.40" y="877.33" width="19.50" height="67.47" fill="#000000"/>
<line x1="195.85" y1="879.80" x2="195.85" y2="874.23" stroke="#000" stroke-width="1.0"/>
<line x1="192.85" y1="874.23" x2="198.85" y2="874.23" stroke="#000" stroke-width="1.0"/>
<rect x="186.10" y="879.80" width="19.50" height="65.00" fill="#808080"/>
<line x1="225.15" y1="864.95" x2="225.15" y2="858.14" stroke="#000" stroke-width="1.0"/>
<line x1="222.15" y1="858.14" x2="228.15" y2="858.14" stroke="#000" stroke-width="1.0"/>
<rect x="215.40" y="864.95" width="19.50" height="79.85" fill="#0000ff"/>
<line x1="254.65" y1="871.14" x2="254.65" y2="865.57" stroke="#000" stroke-width="1.0"/>
<line x1="251.65" y1="865.57" x2="257.65" y2="865.57" stroke="#000" stroke-width="1.0"/>
<rect x="244.90" y="871.14" width="19.50" height="73.66" fill="#ff8000"/>
<line x1="284.05" y1="874.85" x2="284.05" y2="869.90" stroke="#000" stroke-width="1.0"/>
<line x1="281.05" y1="869.90" x2="287.05" y2="869.90" stroke="#000" stroke-width="1.0"/>
<rect x="274.30" y="874.85" width="19.50" height="69.95" fill="#00bf00"/>
<line x1="114.00" y1="944.80" x2="117.00" y2="944.80" stroke="#000" stroke-width="1.3"/>
<text x="108.7" y="949.6" font-size="13.3" text-anchor="end" font-weight="normal" fill="#000">0</text>
<line x1="114.00" y1="882.90" x2="117.00" y2="882.90" stroke="#000" stroke-width="1.3"/>
<text x="108.7" y="887.7" font-size="13.3" text-anchor="end" font-weight="normal" fill="#000">5</text>
<line x1="114.00" y1="821.00" x2="117.00" y2="821.00" stroke="#000" stroke-width="1.3"/>
<text x="108.7" y="825.8" font-size="13.3" text-anchor="end" font-weight="normal" fill="#000">10</text>
<line x1="117.00" y1="821.00" x2="117.00" y2="945.45" stroke="#000" stroke-width="1.3"/>
<line x1="116.35" y1="944.80" x2="304.00" y2="944.80" stroke="#000" stroke-width="1.6"/>
<line x1="136.75" y1="944.80" x2="136.75" y2="949.80" stroke="#000" stroke-width="1.3"/>
<line x1="166.15" y1="944.80" x2="166.15" y2="949.80" stroke="#000" stroke-width="1.3"/>
<line x1="195.85" y1="944.80" x2="195.85" y2="949.80" stroke="#000" stroke-width="1.3"/>
<line x1="225.15" y1="944.80" x2="225.15" y2="949.80" stroke="#000" stroke-width="1.3"/>
<line x1="254.65" y1="944.80" x2="254.65" y2="949.80" stroke="#000" stroke-width="1.3"/>
<line x1="284.05" y1="944.80" x2="284.05" y2="949.80" stroke="#000" stroke-width="1.3"/>
<circle cx="136.69" cy="834.38" r="2.5" fill="#fff" stroke="#000" stroke-width="0.75"/>
<circle cx="136.69" cy="850.48" r="2.5" fill="#fff" stroke="#000" stroke-width="0.75"/>
<circle cx="137.20" cy="861.21" r="2.5" fill="#fff" stroke="#000" stroke-width="0.75"/>
<circle cx="134.13" cy="874.75" r="2.5" fill="#fff" stroke="#000" stroke-width="0.75"/>
<circle cx="140.01" cy="874.75" r="2.5" fill="#fff" stroke="#000" stroke-width="0.75"/>
<circle cx="135.92" cy="878.58" r="2.5" fill="#fff" stroke="#000" stroke-width="0.75"/>
<circle cx="139.24" cy="878.58" r="2.5" fill="#fff" stroke="#000" stroke-width="0.75"/>
<circle cx="134.13" cy="882.42" r="2.5" fill="#fff" stroke="#000" stroke-width="0.75"/>
<circle cx="137.97" cy="881.65" r="2.5" fill="#fff" stroke="#000" stroke-width="0.75"/>
<circle cx="166.07" cy="856.10" r="2.5" fill="#fff" stroke="#000" stroke-width="0.75"/>
<circle cx="160.45" cy="868.36" r="2.5" fill="#fff" stroke="#000" stroke-width="0.75"/>
<circle cx="171.69" cy="868.36" r="2.5" fill="#fff" stroke="#000" stroke-width="0.75"/>
<circle cx="166.07" cy="873.47" r="2.5" fill="#fff" stroke="#000" stroke-width="0.75"/>
<circle cx="162.24" cy="878.58" r="2.5" fill="#fff" stroke="#000" stroke-width="0.75"/>
<circle cx="169.90" cy="881.65" r="2.5" fill="#fff" stroke="#000" stroke-width="0.75"/>
<circle cx="169.90" cy="894.43" r="2.5" fill="#fff" stroke="#000" stroke-width="0.75"/>
<circle cx="162.24" cy="899.79" r="2.5" fill="#fff" stroke="#000" stroke-width="0.75"/>
<circle cx="189.67" cy="865.74" r="2.5" fill="#fff" stroke="#000" stroke-width="0.75"/>
<circle cx="195.77" cy="867.13" r="2.5" fill="#fff" stroke="#000" stroke-width="0.75"/>
<circle cx="201.32" cy="863.25" r="2.5" fill="#fff" stroke="#000" stroke-width="0.75"/>
<circle cx="199.10" cy="873.51" r="2.5" fill="#fff" stroke="#000" stroke-width="0.75"/>
<circle cx="191.61" cy="877.67" r="2.5" fill="#fff" stroke="#000" stroke-width="0.75"/>
<circle cx="195.77" cy="894.31" r="2.5" fill="#fff" stroke="#000" stroke-width="0.75"/>
<circle cx="191.61" cy="903.47" r="2.5" fill="#fff" stroke="#000" stroke-width="0.75"/>
<circle cx="199.10" cy="901.25" r="2.5" fill="#fff" stroke="#000" stroke-width="0.75"/>
<circle cx="224.90" cy="838.00" r="2.5" fill="#fff" stroke="#000" stroke-width="0.75"/>
<circle cx="224.90" cy="851.87" r="2.5" fill="#fff" stroke="#000" stroke-width="0.75"/>
<circle cx="229.06" cy="858.81" r="2.5" fill="#fff" stroke="#000" stroke-width="0.75"/>
<circle cx="223.51" cy="861.58" r="2.5" fill="#fff" stroke="#000" stroke-width="0.75"/>
<circle cx="227.12" cy="863.80" r="2.5" fill="#fff" stroke="#000" stroke-width="0.75"/>
<circle cx="221.57" cy="863.80" r="2.5" fill="#fff" stroke="#000" stroke-width="0.75"/>
<circle cx="224.90" cy="881.00" r="2.5" fill="#fff" stroke="#000" stroke-width="0.75"/>
<circle cx="224.90" cy="903.47" r="2.5" fill="#fff" stroke="#000" stroke-width="0.75"/>
<circle cx="250.69" cy="854.65" r="2.5" fill="#fff" stroke="#000" stroke-width="0.75"/>
<circle cx="258.18" cy="860.19" r="2.5" fill="#fff" stroke="#000" stroke-width="0.75"/>
<circle cx="248.47" cy="865.19" r="2.5" fill="#fff" stroke="#000" stroke-width="0.75"/>
<circle cx="254.85" cy="869.90" r="2.5" fill="#fff" stroke="#000" stroke-width="0.75"/>
<circle cx="260.40" cy="868.52" r="2.5" fill="#fff" stroke="#000" stroke-width="0.75"/>
<circle cx="250.42" cy="874.90" r="2.5" fill="#fff" stroke="#000" stroke-width="0.75"/>
<circle cx="258.18" cy="881.00" r="2.5" fill="#fff" stroke="#000" stroke-width="0.75"/>
<circle cx="254.02" cy="900.42" r="2.5" fill="#fff" stroke="#000" stroke-width="0.75"/>
<circle cx="279.82" cy="857.42" r="2.5" fill="#fff" stroke="#000" stroke-width="0.75"/>
<circle cx="290.92" cy="863.80" r="2.5" fill="#fff" stroke="#000" stroke-width="0.75"/>
<circle cx="287.31" cy="867.96" r="2.5" fill="#fff" stroke="#000" stroke-width="0.75"/>
<circle cx="277.05" cy="872.95" r="2.5" fill="#fff" stroke="#000" stroke-width="0.75"/>
<circle cx="280.37" cy="879.06" r="2.5" fill="#fff" stroke="#000" stroke-width="0.75"/>
<circle cx="290.92" cy="884.60" r="2.5" fill="#fff" stroke="#000" stroke-width="0.75"/>
<circle cx="287.31" cy="888.21" r="2.5" fill="#fff" stroke="#000" stroke-width="0.75"/>
<circle cx="279.82" cy="894.31" r="2.5" fill="#fff" stroke="#000" stroke-width="0.75"/>
<text x="74.9" y="881.6" font-size="13.8" text-anchor="middle" font-weight="normal" fill="#000" transform="rotate(-90 74.9 876.6)">Plasma GLP-1 (pM)</text>
<text x="306.8" y="809.5" font-size="18.5" text-anchor="start" font-weight="bold" fill="#000">(H)</text>
<line x1="430.45" y1="868.77" x2="430.45" y2="865.08" stroke="#000" stroke-width="1.0"/>
<line x1="427.45" y1="865.08" x2="433.45" y2="865.08" stroke="#000" stroke-width="1.0"/>
<rect x="421.20" y="868.77" width="18.50" height="75.03" fill="#ff0000"/>
<line x1="459.05" y1="893.98" x2="459.05" y2="889.06" stroke="#000" stroke-width="1.0"/>
<line x1="456.05" y1="889.06" x2="462.05" y2="889.06" stroke="#000" stroke-width="1.0"/>
<rect x="449.80" y="893.98" width="18.50" height="49.82" fill="#000000"/>
<line x1="486.85" y1="895.83" x2="486.85" y2="891.52" stroke="#000" stroke-width="1.0"/>
<line x1="483.85" y1="891.52" x2="489.85" y2="891.52" stroke="#000" stroke-width="1.0"/>
<rect x="477.60" y="895.83" width="18.50" height="47.97" fill="#808080"/>
<line x1="514.95" y1="892.14" x2="514.95" y2="887.84" stroke="#000" stroke-width="1.0"/>
<line x1="511.95" y1="887.84" x2="517.95" y2="887.84" stroke="#000" stroke-width="1.0"/>
<rect x="505.70" y="892.14" width="18.50" height="51.66" fill="#0000ff"/>
<line x1="543.35" y1="887.22" x2="543.35" y2="882.30" stroke="#000" stroke-width="1.0"/>
<line x1="540.35" y1="882.30" x2="546.35" y2="882.30" stroke="#000" stroke-width="1.0"/>
<rect x="534.10" y="887.22" width="18.50" height="56.58" fill="#ff8000"/>
<line x1="571.45" y1="892.75" x2="571.45" y2="889.06" stroke="#000" stroke-width="1.0"/>
<line x1="568.45" y1="889.06" x2="574.45" y2="889.06" stroke="#000" stroke-width="1.0"/>
<rect x="562.20" y="892.75" width="18.50" height="51.04" fill="#00bf00"/>
<line x1="408.30" y1="943.80" x2="411.30" y2="943.80" stroke="#000" stroke-width="1.3"/>
<text x="403.3" y="948.6" font-size="13.3" text-anchor="end" font-weight="normal" fill="#000">0</text>
<line x1="408.30" y1="882.30" x2="411.30" y2="882.30" stroke="#000" stroke-width="1.3"/>
<text x="403.3" y="887.1" font-size="13.3" text-anchor="end" font-weight="normal" fill="#000">5</text>
<line x1="408.30" y1="820.80" x2="411.30" y2="820.80" stroke="#000" stroke-width="1.3"/>
<text x="403.3" y="825.6" font-size="13.3" text-anchor="end" font-weight="normal" fill="#000">10</text>
<line x1="411.30" y1="821.00" x2="411.30" y2="944.45" stroke="#000" stroke-width="1.3"/>
<line x1="410.65" y1="943.80" x2="590.60" y2="943.80" stroke="#000" stroke-width="1.6"/>
<line x1="430.45" y1="943.80" x2="430.45" y2="948.80" stroke="#000" stroke-width="1.3"/>
<line x1="459.05" y1="943.80" x2="459.05" y2="948.80" stroke="#000" stroke-width="1.3"/>
<line x1="486.85" y1="943.80" x2="486.85" y2="948.80" stroke="#000" stroke-width="1.3"/>
<line x1="514.95" y1="943.80" x2="514.95" y2="948.80" stroke="#000" stroke-width="1.3"/>
<line x1="543.35" y1="943.80" x2="543.35" y2="948.80" stroke="#000" stroke-width="1.3"/>
<line x1="571.45" y1="943.80" x2="571.45" y2="948.80" stroke="#000" stroke-width="1.3"/>
<circle cx="430.37" cy="857.67" r="2.5" fill="#fff" stroke="#000" stroke-width="0.75"/>
<circle cx="433.98" cy="861.28" r="2.5" fill="#fff" stroke="#000" stroke-width="0.75"/>
<circle cx="423.44" cy="864.60" r="2.5" fill="#fff" stroke="#000" stroke-width="0.75"/>
<circle cx="428.16" cy="868.21" r="2.5" fill="#fff" stroke="#000" stroke-width="0.75"/>
<circle cx="434.54" cy="869.32" r="2.5" fill="#fff" stroke="#000" stroke-width="0.75"/>
<circle cx="426.21" cy="872.93" r="2.5" fill="#fff" stroke="#000" stroke-width="0.75"/>
<circle cx="430.93" cy="871.54" r="2.5" fill="#fff" stroke="#000" stroke-width="0.75"/>
<circle cx="430.37" cy="883.19" r="2.5" fill="#fff" stroke="#000" stroke-width="0.75"/>
<circle cx="455.34" cy="882.64" r="2.5" fill="#fff" stroke="#000" stroke-width="0.75"/>
<circle cx="461.72" cy="882.08" r="2.5" fill="#fff" stroke="#000" stroke-width="0.75"/>
<circle cx="457.28" cy="886.80" r="2.5" fill="#fff" stroke="#000" stroke-width="0.75"/>
<circle cx="455.34" cy="890.96" r="2.5" fill="#fff" stroke="#000" stroke-width="0.75"/>
<circle cx="461.72" cy="896.50" r="2.5" fill="#fff" stroke="#000" stroke-width="0.75"/>
<circle cx="455.34" cy="913.15" r="2.5" fill="#fff" stroke="#000" stroke-width="0.75"/>
<circle cx="462.27" cy="909.82" r="2.5" fill="#fff" stroke="#000" stroke-width="0.75"/>
<circle cx="486.80" cy="878.30" r="2.5" fill="#fff" stroke="#000" stroke-width="0.75"/>
<circle cx="483.12" cy="887.49" r="2.5" fill="#fff" stroke="#000" stroke-width="0.75"/>
<circle cx="490.22" cy="887.49" r="2.5" fill="#fff" stroke="#000" stroke-width="0.75"/>
<circle cx="486.27" cy="890.65" r="2.5" fill="#fff" stroke="#000" stroke-width="0.75"/>
<circle cx="488.90" cy="891.96" r="2.5" fill="#fff" stroke="#000" stroke-width="0.75"/>
<circle cx="481.02" cy="908.51" r="2.5" fill="#fff" stroke="#000" stroke-width="0.75"/>
<circle cx="486.80" cy="911.14" r="2.5" fill="#fff" stroke="#000" stroke-width="0.75"/>
<circle cx="492.84" cy="911.14" r="2.5" fill="#fff" stroke="#000" stroke-width="0.75"/>
<circle cx="514.65" cy="872.78" r="2.5" fill="#fff" stroke="#000" stroke-width="0.75"/>
<circle cx="511.23" cy="884.08" r="2.5" fill="#fff" stroke="#000" stroke-width="0.75"/>
<circle cx="518.33" cy="882.76" r="2.5" fill="#fff" stroke="#000" stroke-width="0.75"/>
<circle cx="515.18" cy="895.11" r="2.5" fill="#fff" stroke="#000" stroke-width="0.75"/>
<circle cx="512.02" cy="899.84" r="2.5" fill="#fff" stroke="#000" stroke-width="0.75"/>
<circle cx="517.28" cy="900.63" r="2.5" fill="#fff" stroke="#000" stroke-width="0.75"/>
<circle cx="512.55" cy="904.57" r="2.5" fill="#fff" stroke="#000" stroke-width="0.75"/>
<circle cx="543.03" cy="862.53" r="2.5" fill="#fff" stroke="#000" stroke-width="0.75"/>
<circle cx="536.20" cy="878.82" r="2.5" fill="#fff" stroke="#000" stroke-width="0.75"/>
<circle cx="546.71" cy="876.98" r="2.5" fill="#fff" stroke="#000" stroke-width="0.75"/>
<circle cx="539.35" cy="885.92" r="2.5" fill="#fff" stroke="#000" stroke-width="0.75"/>
<circle cx="546.71" cy="886.71" r="2.5" fill="#fff" stroke="#000" stroke-width="0.75"/>
<circle cx="537.51" cy="897.74" r="2.5" fill="#fff" stroke="#000" stroke-width="0.75"/>
<circle cx="543.03" cy="905.10" r="2.5" fill="#fff" stroke="#000" stroke-width="0.75"/>
<circle cx="548.81" cy="902.47" r="2.5" fill="#fff" stroke="#000" stroke-width="0.75"/>
<circle cx="574.82" cy="884.87" r="2.5" fill="#fff" stroke="#000" stroke-width="0.75"/>
<circle cx="567.72" cy="887.49" r="2.5" fill="#fff" stroke="#000" stroke-width="0.75"/>
<circle cx="571.14" cy="889.33" r="2.5" fill="#fff" stroke="#000" stroke-width="0.75"/>
<circle cx="576.92" cy="893.27" r="2.5" fill="#fff" stroke="#000" stroke-width="0.75"/>
<circle cx="565.10" cy="896.69" r="2.5" fill="#fff" stroke="#000" stroke-width="0.75"/>
<circle cx="571.67" cy="897.21" r="2.5" fill="#fff" stroke="#000" stroke-width="0.75"/>
<circle cx="571.14" cy="906.94" r="2.5" fill="#fff" stroke="#000" stroke-width="0.75"/>
<text x="431.8" y="828.5" font-size="13.3" text-anchor="middle" font-weight="bold" letter-spacing="0.0">***</text>
<text x="365.7" y="886.8" font-size="13.3" text-anchor="middle" font-weight="normal" fill="#000" transform="rotate(-90 365.7 882.0)">Plasma PYY (ng/mL)</text>
</svg>
</body></html>
